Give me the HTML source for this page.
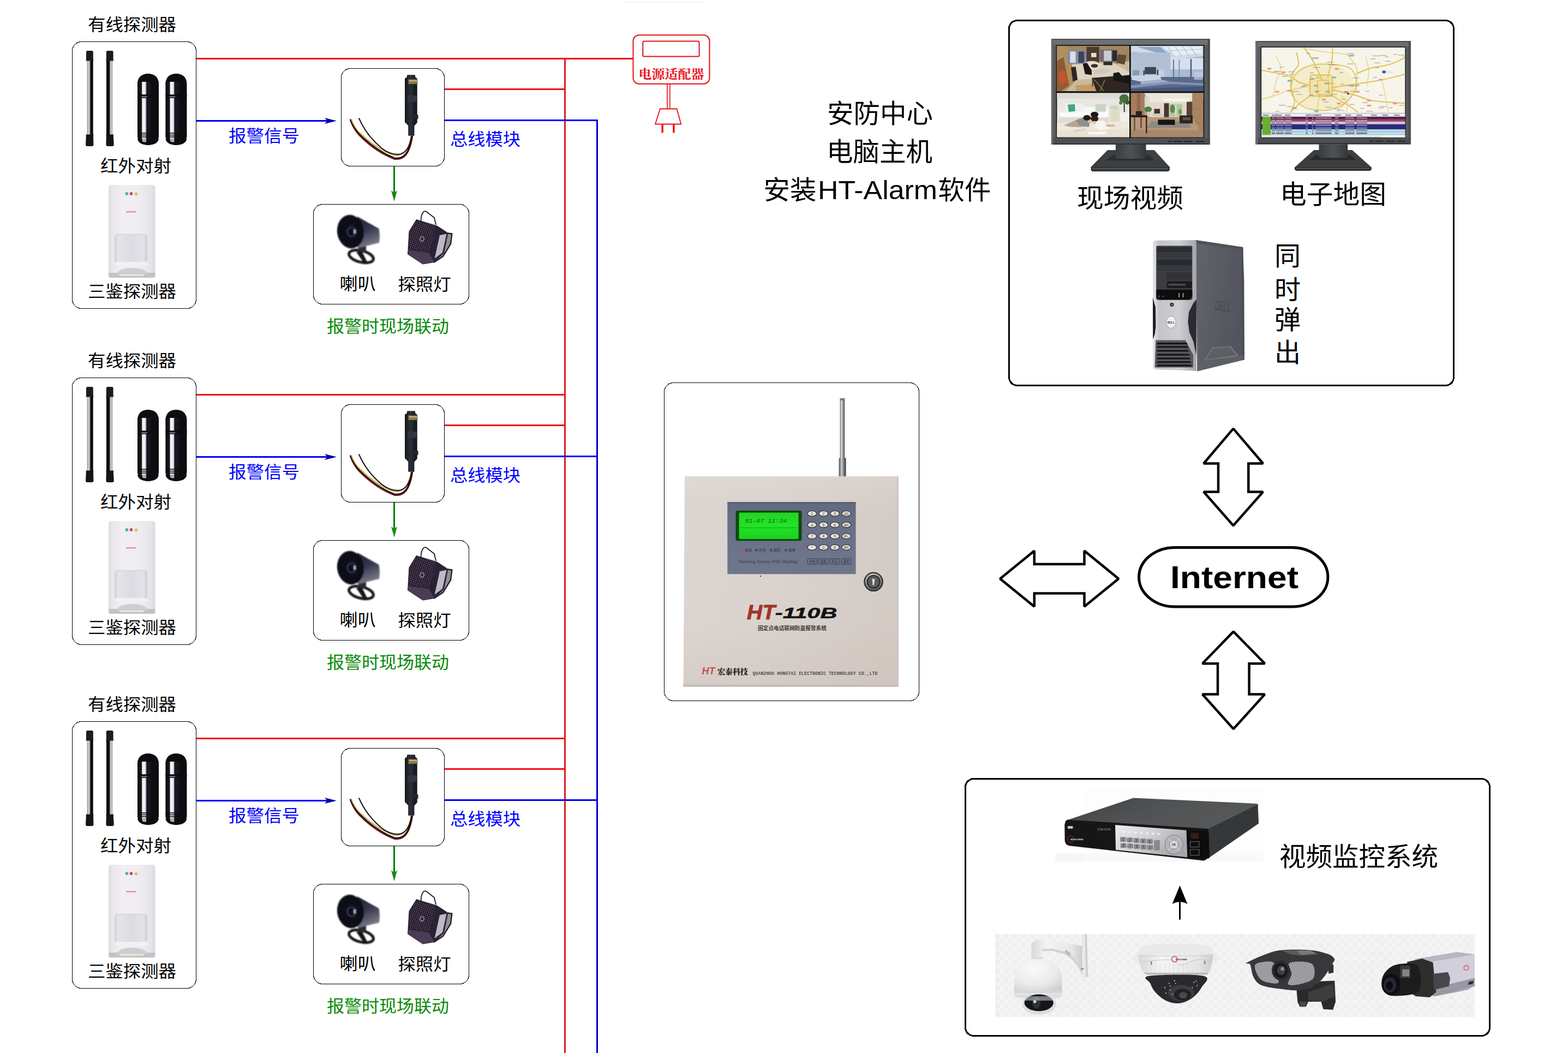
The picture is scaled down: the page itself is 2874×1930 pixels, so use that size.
<!DOCTYPE html>
<html lang="zh-CN">
<head>
<meta charset="utf-8">
<title>联网报警系统拓扑图</title>
<style>
html,body{margin:0;padding:0;background:#fff;}
body{width:2874px;height:1930px;overflow:hidden;}
svg{display:block;font-family:"Liberation Sans","Noto Sans CJK SC",sans-serif;}
</style>
</head>
<body>
<svg width="2874" height="1930" viewBox="0 0 2874 1930">
<defs>

<linearGradient id="gAnt" x1="0" x2="1" y1="0" y2="0"><stop offset="0" stop-color="#6c6c6c"/><stop offset="0.35" stop-color="#e4e4e4"/><stop offset="0.6" stop-color="#9a9a9a"/><stop offset="1" stop-color="#4a4a4a"/></linearGradient>
<linearGradient id="gAnt2" x1="0" x2="1" y1="0" y2="0"><stop offset="0" stop-color="#4c4c4c"/><stop offset="0.4" stop-color="#d0d0d0"/><stop offset="0.65" stop-color="#808080"/><stop offset="1" stop-color="#3a3a3a"/></linearGradient>
<linearGradient id="gBody" x1="0" x2="1" y1="0" y2="0.15"><stop offset="0" stop-color="#dcd6d2"/><stop offset="0.5" stop-color="#d9d2cd"/><stop offset="1" stop-color="#d4cbc5"/></linearGradient><linearGradient id="gBodyV" x1="0" x2="0" y1="0" y2="1"><stop offset="0" stop-color="#e6e0da" stop-opacity="0.35"/><stop offset="0.25" stop-color="#d4c8c0" stop-opacity="0"/><stop offset="0.7" stop-color="#c8b8ac" stop-opacity="0"/><stop offset="1" stop-color="#c8bab0" stop-opacity="0.3"/></linearGradient>
<linearGradient id="gPanel" x1="0" x2="0" y1="0" y2="1"><stop offset="0" stop-color="#626a80"/><stop offset="0.5" stop-color="#6a7289"/><stop offset="1" stop-color="#6e768c"/></linearGradient>
<linearGradient id="gLcd" x1="0" x2="0" y1="0" y2="1"><stop offset="0" stop-color="#22d424"/><stop offset="0.5" stop-color="#20e426"/><stop offset="1" stop-color="#1ed022"/></linearGradient>
<radialGradient id="gLock" cx="0.45" cy="0.35" r="0.65"><stop offset="0" stop-color="#e4e4e4"/><stop offset="0.55" stop-color="#9a9a9a"/><stop offset="1" stop-color="#4a4a4a"/></radialGradient>

<filter id="soft" x="-10%" y="-10%" width="120%" height="120%"><feGaussianBlur stdDeviation="0.7"/></filter>
<filter id="soft2" x="-10%" y="-10%" width="120%" height="120%"><feGaussianBlur stdDeviation="1.1"/></filter>
<linearGradient id="gRodA" x1="0" x2="1" y1="0" y2="0">
 <stop offset="0" stop-color="#8c8c8c"/><stop offset="0.25" stop-color="#d4d4d4"/><stop offset="0.5" stop-color="#9a9a9a"/><stop offset="0.56" stop-color="#0a0a0a"/><stop offset="1" stop-color="#050505"/>
</linearGradient>
<linearGradient id="gRodB" x1="0" x2="1" y1="0" y2="0">
 <stop offset="0" stop-color="#050505"/><stop offset="0.52" stop-color="#0a0a0a"/><stop offset="0.58" stop-color="#9a9a9a"/><stop offset="0.8" stop-color="#d4d4d4"/><stop offset="1" stop-color="#909090"/>
</linearGradient>
<linearGradient id="gCap" x1="0" x2="1" y1="0" y2="0">
 <stop offset="0" stop-color="#0c0c12"/><stop offset="0.17" stop-color="#1a1a22"/><stop offset="0.2" stop-color="#f4f4f8"/><stop offset="0.36" stop-color="#e8e8f0"/><stop offset="0.43" stop-color="#181820"/><stop offset="1" stop-color="#07070c"/>
</linearGradient>
<g id="capsule">
 <path d="M0 20 C0 6 8 0 19.5 0 C31 0 39 6 39 20 V112 C39 124 31 130.5 19.5 130.5 C8 130.5 0 124 0 112 Z" fill="#08080e"/>
 <rect x="1.5" y="14.5" width="36" height="108" fill="url(#gCap)"/>
 <path d="M0 20 C0 6 8 0 19.5 0 C31 0 39 6 39 20 L37.5 14.5 H1.5 Z" fill="#08080e"/>
 <rect x="0" y="38" width="39" height="3.6" fill="#0a0a10"/>
 <rect x="7" y="41.6" width="11" height="1.4" fill="#9a9aa4"/>
 <rect x="0" y="43" width="39" height="1.6" fill="#0a0a10"/>
 <rect x="0" y="108" width="39" height="1.6" fill="#0a0a10"/>
 <rect x="0" y="111.5" width="39" height="1.6" fill="#0a0a10"/>
 <rect x="0" y="115" width="39" height="1.6" fill="#0a0a10"/>
 <path d="M0 119 H39 C38 126 31 130.5 19.5 130.5 C8 130.5 1 126 0 119 Z" fill="#08080e"/>
 <path d="M8 119 h8 v6 q-4 1 -7 -1 z" fill="#d8d8e0" opacity="0.8"/>
</g>
<g id="irbars" filter="url(#soft)">
 <rect x="159.6" y="108" width="11" height="142" fill="url(#gRodA)"/>
 <path d="M158 95.5 q0 -2.4 2.4 -2.4 h8 q2.4 0 2.4 2.4 v13 l0.6 3 h-14 l0.6 -3 z" fill="#1c1c1c"/>
 <path d="M157.6 246.5 h14 l-0.6 3 l0.4 15.5 q0 3 -3 3 h-8.4 q-3 0 -3 -3 l0.8 -15.5 z" fill="#161616"/>
 <rect x="195" y="108" width="11.3" height="142" fill="url(#gRodB)"/>
 <path d="M194.8 95.5 q0 -2.4 2.4 -2.4 h8 q2.4 0 2.4 2.4 v13 l0.6 3 h-14 l0.6 -3 z" fill="#1c1c1c"/>
 <path d="M194.2 246.5 h14 l-0.4 3 l1 15.5 q0 3 -3 3 h-8.4 q-3 0 -3 -3 l0.4 -15.5 z" fill="#161616"/>
 <use href="#capsule" x="252" y="135.2"/>
 <use href="#capsule" x="303.4" y="135.2"/>
</g>
<linearGradient id="gPir" x1="0" x2="1" y1="0" y2="0">
 <stop offset="0" stop-color="#dddbe0"/><stop offset="0.08" stop-color="#e9e7ec"/><stop offset="0.3" stop-color="#f1eff4"/><stop offset="0.7" stop-color="#eeecf1"/><stop offset="0.92" stop-color="#e5e3e9"/><stop offset="1" stop-color="#d9d7dd"/>
</linearGradient>
<linearGradient id="gPirLens" x1="0" x2="1" y1="0" y2="0">
 <stop offset="0" stop-color="#d6d4da"/><stop offset="0.12" stop-color="#e6e4ea"/><stop offset="0.5" stop-color="#dddbe2"/><stop offset="0.88" stop-color="#e4e2e8"/><stop offset="1" stop-color="#d2d0d6"/>
</linearGradient>
<g id="pir" filter="url(#soft)">
 <rect x="199" y="339" width="85.5" height="170" rx="5" fill="url(#gPir)"/>
 <rect x="227" y="349" width="27" height="46" fill="#f0eef3"/>
 <path d="M199 500 h85.5 v5 q0 4 -4 4 h-77.5 q-4 0 -4 -4 z" fill="#c4c2c6"/>
 <path d="M214 503 q3 -12 28 -12 q25 0 29 12 z" fill="#cfcdd0"/>
 <rect x="219" y="503" width="44" height="2.5" fill="#eeecd8"/>
 <path d="M210.5 436 q0 -6.5 6 -6.5 h47 q6 0 6 6.5 v40 q0 4.5 -5 4.5 h-49 q-5 0 -5 -4.5 z" fill="url(#gPirLens)" stroke="#d0ced5" stroke-width="1.2"/>
 <path d="M212 480 h57 v8 h-57 z" fill="#f2f0f5"/>
 <circle cx="232.4" cy="355" r="2.9" fill="#5ab48c"/>
 <circle cx="240.5" cy="355" r="2.9" fill="#c8505e"/>
 <circle cx="249.5" cy="355.5" r="2.9" fill="#d2c46c"/>
 <rect x="231" y="387.3" width="18.5" height="2" fill="#e0808c"/>
</g>
<linearGradient id="gMod" x1="0" x2="1" y1="0" y2="0">
 <stop offset="0" stop-color="#16181e"/><stop offset="0.45" stop-color="#2c3038"/><stop offset="1" stop-color="#101216"/>
</linearGradient>
<g id="module" filter="url(#soft)">
 <path d="M641.6 218.9 C646 232 652 241 658 247.5 C678 268 700 283 723 291.6 C740 294 751 283 756.2 249" fill="none" stroke="#7a1418" stroke-width="2.2"/>
 <path d="M642.4 218.5 C647 231 653 240 659 246 C679 266 701 281 723 289.6 C739 292 750 282 755.2 249" fill="none" stroke="#101014" stroke-width="2.2"/>
 <path d="M643.6 218.2 C648 230 654 238.5 660.5 244.5 C680 263 700 277 721 284.5 C738 287 749 278 753.2 249" fill="none" stroke="#c9a43c" stroke-width="1.8"/>
 <path d="M657.8 216.3 C668 240 683 258 700 272 C712 281 722 283.5 730 283 C744 282 752 268 754.5 249" fill="none" stroke="#0c0c10" stroke-width="2"/>
 <path d="M746.5 137.3 h14 l1.2 5 l3 1.5 v81 l-5.3 6 v18 h-11.2 v-18.5 l-6.2 -6.5 v-80 l3.3 -2 z" fill="url(#gMod)"/>
 <rect x="748.5" y="145.4" width="17" height="8.6" fill="#8a7a4a"/>
 <rect x="750" y="147" width="14" height="2" fill="#c8b878"/>
 <rect x="747.5" y="175" width="17" height="12" fill="#30343c"/>
 <rect x="758" y="210" width="8.5" height="8" fill="#24262c"/>
</g>
<linearGradient id="gHorn" x1="0" x2="0.3" y1="0" y2="1">
 <stop offset="0" stop-color="#181c2e"/><stop offset="0.5" stop-color="#34384e"/><stop offset="1" stop-color="#7c7888"/>
</linearGradient>
<radialGradient id="gBell" cx="0.55" cy="0.5" r="0.6">
 <stop offset="0" stop-color="#1c2030"/><stop offset="0.5" stop-color="#0a0c16"/><stop offset="1" stop-color="#10121e"/>
</radialGradient>
<g id="horn" filter="url(#soft2)">
 <ellipse cx="662" cy="470" rx="23" ry="10.5" fill="none" stroke="#121216" stroke-width="5" transform="rotate(14 662 470)"/>
 <path d="M653 462 l14 20 l6 -2 l-10 -20 z" fill="#121216"/>
 <rect x="657" y="451" width="14" height="10" fill="#2a2c38"/>
 <path d="M655 397 L694.5 419 Q697 432 695 445 L655 455 Z" fill="url(#gHorn)"/>
 <ellipse cx="642.5" cy="424.5" rx="24.5" ry="30.8" fill="url(#gBell)" transform="rotate(-8 642.5 424.5)"/>
 <circle cx="644.5" cy="425" r="8" fill="#0c0e1a" stroke="#4a5068" stroke-width="1.2"/>
 <rect x="648.5" y="421" width="3" height="7" fill="#c8ccd8"/>
</g>
<pattern id="pDots" width="3.6" height="3.6" patternUnits="userSpaceOnUse" patternTransform="rotate(20)">
 <rect width="3.6" height="3.6" fill="#241a2a"/><circle cx="1.8" cy="1.8" r="0.9" fill="#7a6a86"/>
</pattern>
<g id="lamp" filter="url(#soft)">
 <path d="M770.5 420 L772 398 Q775 385 781 387.5 L796 399 L799 412" fill="none" stroke="#1c1820" stroke-width="1.8"/>
 <path d="M821 427.5 L828.3 428.5 L826 447 L812 470 L795 481" fill="none" stroke="#1c1820" stroke-width="2.4"/>
 <path d="M749.5 424 L763 402 L801 413.5 L821.5 427 L814 464 L796 481 L775 484.5 L747 466 Z" fill="#2a2030"/>
 <path d="M751 424 L763.5 403.5 L800 414.5 L786 462 L749 456 Z" fill="url(#pDots)"/>
 <path d="M748 458 L786 463 L796 480 L775 484 L747.5 466 Z" fill="#4a3c54"/>
 <path d="M806 431 L818.5 428.8 L811 463 L796.5 474 Z" fill="#bdb9c8"/><path d="M821 427.5 L828.3 428.5 L826 447 L812 470 L797 480 L811 463 Z" fill="#3a3040" opacity="0.55"/>
 <ellipse cx="773.5" cy="438" rx="3.6" ry="4.3" fill="none" stroke="#dcd8e4" stroke-width="1"/>
</g>

<linearGradient id="gNeck" x1="0" x2="1" y1="0" y2="0"><stop offset="0" stop-color="#3a3c3e"/><stop offset="0.5" stop-color="#505254"/><stop offset="1" stop-color="#343638"/></linearGradient>

<linearGradient id="gSide" x1="0" x2="1" y1="0" y2="0.3"><stop offset="0" stop-color="#62646b"/><stop offset="0.5" stop-color="#5a5c63"/><stop offset="1" stop-color="#53555c"/></linearGradient>
<linearGradient id="gSilver" x1="0" x2="1" y1="0" y2="0"><stop offset="0" stop-color="#e4e4e8"/><stop offset="0.15" stop-color="#c4c4c8"/><stop offset="0.6" stop-color="#cfcfd3"/><stop offset="1" stop-color="#a4a4aa"/></linearGradient>

<linearGradient id="gDvrTop" x1="0" x2="1" y1="0" y2="0.4"><stop offset="0" stop-color="#404244"/><stop offset="0.5" stop-color="#505254"/><stop offset="1" stop-color="#56585a"/></linearGradient>
<linearGradient id="gDvrPanel" x1="0" x2="1" y1="0" y2="0.5"><stop offset="0" stop-color="#ececee"/><stop offset="0.5" stop-color="#d2d2d6"/><stop offset="1" stop-color="#a8a8ac"/></linearGradient>
<pattern id="pWeave" width="16" height="16" patternUnits="userSpaceOnUse"><rect width="16" height="16" fill="#f4f4f4"/><rect x="0" y="0" width="8" height="8" fill="#eeeeee"/><rect x="8" y="8" width="8" height="8" fill="#f0f0f0"/></pattern>
<radialGradient id="gDome" cx="0.4" cy="0.3" r="0.8"><stop offset="0" stop-color="#fafafa"/><stop offset="0.6" stop-color="#ebebeb"/><stop offset="1" stop-color="#cfcfcf"/></radialGradient>
<linearGradient id="gWhiteCam" x1="0" x2="1" y1="0" y2="0"><stop offset="0" stop-color="#d8d8d8"/><stop offset="0.3" stop-color="#f4f4f4"/><stop offset="0.8" stop-color="#e6e6e6"/><stop offset="1" stop-color="#cccccc"/></linearGradient>
<pattern id="pLed" width="3" height="3" patternUnits="userSpaceOnUse" patternTransform="rotate(25)"><rect width="3" height="3" fill="#7e7e82"/><circle cx="1.5" cy="1.5" r="0.9" fill="#e4e4e8"/></pattern>
<linearGradient id="gBox" x1="0" x2="0" y1="0" y2="1"><stop offset="0" stop-color="#a8a4b0"/><stop offset="0.25" stop-color="#d8d4e0"/><stop offset="0.7" stop-color="#c4c0cc"/><stop offset="1" stop-color="#8c8894"/></linearGradient>

</defs>
<rect x="1034" y="106" width="3" height="1824" fill="#d81e28"/>
<rect x="1093" y="219" width="3" height="1711" fill="#0000d0"/>
<g transform="translate(0,0)">
<rect x="360" y="106" width="800" height="3" fill="#ed1019"/>
<rect x="814" y="162" width="222" height="3" fill="#ed1019"/>
<rect x="814" y="219" width="282" height="3" fill="#0000ff"/>
<rect x="360" y="220" width="240" height="3" fill="#0000ff"/>
<path d="M617 221.5 L595 216 L600 221.5 L595 227 Z" fill="#00009a"/>
<text x="161" y="56" font-size="31" fill="#000" textLength="162" lengthAdjust="spacingAndGlyphs">有线探测器</text>
<rect x="132.5" y="76.5" width="227.0" height="489.0" rx="17" ry="17" fill="none" stroke="#000" stroke-width="1" shape-rendering="crispEdges"/>
<use href="#irbars"/>
<text x="184" y="315.3" font-size="31" fill="#000" textLength="130" lengthAdjust="spacingAndGlyphs">红外对射</text>
<use href="#pir"/>
<text x="161" y="545.2" font-size="31" fill="#000" textLength="162" lengthAdjust="spacingAndGlyphs">三鉴探测器</text>
<text x="419" y="260.3" font-size="31" fill="#0000ff" textLength="130" lengthAdjust="spacingAndGlyphs">报警信号</text>
<text x="825" y="266.2" font-size="31" fill="#0000ff" textLength="129" lengthAdjust="spacingAndGlyphs">总线模块</text>
<rect x="625.5" y="125.5" width="189.0" height="179.0" rx="17" ry="17" fill="#fff" stroke="#000" stroke-width="1" shape-rendering="crispEdges"/>
<use href="#module"/>
<rect x="721" y="305" width="3" height="50" fill="#008000"/>
<path d="M722.5 369 L717 349 L722.5 353.5 L728 349 Z" fill="#128c12"/>
<rect x="574.5" y="374.5" width="285.0" height="183.0" rx="17" ry="17" fill="#fff" stroke="#000" stroke-width="1" shape-rendering="crispEdges"/>
<use href="#horn"/>
<use href="#lamp"/>
<text x="622.5" y="531.3" font-size="31" fill="#000" textLength="66.5" lengthAdjust="spacingAndGlyphs">喇叭</text>
<text x="729.5" y="532.3" font-size="31" fill="#000" textLength="97" lengthAdjust="spacingAndGlyphs">探照灯</text>
<text x="599" y="608.6" font-size="31" fill="#0a8a0a" textLength="224" lengthAdjust="spacingAndGlyphs">报警时现场联动</text>
</g>
<g transform="translate(0,616)">
<rect x="360" y="106" width="676" height="3" fill="#ed1019"/>
<rect x="814" y="162" width="222" height="3" fill="#ed1019"/>
<rect x="814" y="219" width="282" height="3" fill="#0000ff"/>
<rect x="360" y="220" width="240" height="3" fill="#0000ff"/>
<path d="M617 221.5 L595 216 L600 221.5 L595 227 Z" fill="#00009a"/>
<text x="161" y="56" font-size="31" fill="#000" textLength="162" lengthAdjust="spacingAndGlyphs">有线探测器</text>
<rect x="132.5" y="76.5" width="227.0" height="489.0" rx="17" ry="17" fill="none" stroke="#000" stroke-width="1" shape-rendering="crispEdges"/>
<use href="#irbars"/>
<text x="184" y="315.3" font-size="31" fill="#000" textLength="130" lengthAdjust="spacingAndGlyphs">红外对射</text>
<use href="#pir"/>
<text x="161" y="545.2" font-size="31" fill="#000" textLength="162" lengthAdjust="spacingAndGlyphs">三鉴探测器</text>
<text x="419" y="260.3" font-size="31" fill="#0000ff" textLength="130" lengthAdjust="spacingAndGlyphs">报警信号</text>
<text x="825" y="266.2" font-size="31" fill="#0000ff" textLength="129" lengthAdjust="spacingAndGlyphs">总线模块</text>
<rect x="625.5" y="125.5" width="189.0" height="179.0" rx="17" ry="17" fill="#fff" stroke="#000" stroke-width="1" shape-rendering="crispEdges"/>
<use href="#module"/>
<rect x="721" y="305" width="3" height="50" fill="#008000"/>
<path d="M722.5 369 L717 349 L722.5 353.5 L728 349 Z" fill="#128c12"/>
<rect x="574.5" y="374.5" width="285.0" height="183.0" rx="17" ry="17" fill="#fff" stroke="#000" stroke-width="1" shape-rendering="crispEdges"/>
<use href="#horn"/>
<use href="#lamp"/>
<text x="622.5" y="531.3" font-size="31" fill="#000" textLength="66.5" lengthAdjust="spacingAndGlyphs">喇叭</text>
<text x="729.5" y="532.3" font-size="31" fill="#000" textLength="97" lengthAdjust="spacingAndGlyphs">探照灯</text>
<text x="599" y="608.6" font-size="31" fill="#0a8a0a" textLength="224" lengthAdjust="spacingAndGlyphs">报警时现场联动</text>
</g>
<g transform="translate(0,1246)">
<rect x="360" y="106" width="676" height="3" fill="#ed1019"/>
<rect x="814" y="162" width="222" height="3" fill="#ed1019"/>
<rect x="814" y="219" width="282" height="3" fill="#0000ff"/>
<rect x="360" y="220" width="240" height="3" fill="#0000ff"/>
<path d="M617 221.5 L595 216 L600 221.5 L595 227 Z" fill="#00009a"/>
<text x="161" y="56" font-size="31" fill="#000" textLength="162" lengthAdjust="spacingAndGlyphs">有线探测器</text>
<rect x="132.5" y="76.5" width="227.0" height="489.0" rx="17" ry="17" fill="none" stroke="#000" stroke-width="1" shape-rendering="crispEdges"/>
<use href="#irbars"/>
<text x="184" y="315.3" font-size="31" fill="#000" textLength="130" lengthAdjust="spacingAndGlyphs">红外对射</text>
<use href="#pir"/>
<text x="161" y="545.2" font-size="31" fill="#000" textLength="162" lengthAdjust="spacingAndGlyphs">三鉴探测器</text>
<text x="419" y="260.3" font-size="31" fill="#0000ff" textLength="130" lengthAdjust="spacingAndGlyphs">报警信号</text>
<text x="825" y="266.2" font-size="31" fill="#0000ff" textLength="129" lengthAdjust="spacingAndGlyphs">总线模块</text>
<rect x="625.5" y="125.5" width="189.0" height="179.0" rx="17" ry="17" fill="#fff" stroke="#000" stroke-width="1" shape-rendering="crispEdges"/>
<use href="#module"/>
<rect x="721" y="305" width="3" height="50" fill="#008000"/>
<path d="M722.5 369 L717 349 L722.5 353.5 L728 349 Z" fill="#128c12"/>
<rect x="574.5" y="374.5" width="285.0" height="183.0" rx="17" ry="17" fill="#fff" stroke="#000" stroke-width="1" shape-rendering="crispEdges"/>
<use href="#horn"/>
<use href="#lamp"/>
<text x="622.5" y="531.3" font-size="31" fill="#000" textLength="66.5" lengthAdjust="spacingAndGlyphs">喇叭</text>
<text x="729.5" y="532.3" font-size="31" fill="#000" textLength="97" lengthAdjust="spacingAndGlyphs">探照灯</text>
<text x="599" y="608.6" font-size="31" fill="#0a8a0a" textLength="224" lengthAdjust="spacingAndGlyphs">报警时现场联动</text>
</g>
<rect x="1147" y="4" width="146" height="1" fill="#ebebeb"/>
<rect x="1160.5" y="64.2" width="140.0" height="89.6" rx="11" ry="11" fill="#fff" stroke="#e60f14" stroke-width="2" />
<rect x="1178.3" y="75.6" width="103.3" height="28.0" rx="2.5" ry="2.5" fill="none" stroke="#e60f14" stroke-width="2" />
<text x="1170.5" y="143.6" font-size="23" fill="#e8101a" textLength="120" lengthAdjust="spacingAndGlyphs" font-weight="700" font-family='"Liberation Serif","Noto Serif CJK SC",serif'>电源适配器</text>
<path d="M1223 154 V199 M1227.8 154 V199" stroke="#e60f14" stroke-width="1.6" fill="none"/>
<path d="M1210 199.5 H1240.5 L1248.3 227.5 H1201 Z" stroke="#e60f14" stroke-width="1.8" fill="#fff" stroke-linejoin="round"/>
<rect x="1212.5" y="228" width="3.4" height="15.5" fill="#ee1111"/><rect x="1233.2" y="228" width="3.4" height="15.5" fill="#ee1111"/>
<text x="1516" y="225" font-size="48" fill="#000" textLength="194" lengthAdjust="spacingAndGlyphs">安防中心</text>
<text x="1515" y="295" font-size="48" fill="#000" textLength="194" lengthAdjust="spacingAndGlyphs">电脑主机</text>
<text y="365" font-size="48" fill="#000"><tspan x="1399.5" textLength="97" lengthAdjust="spacingAndGlyphs">安装</tspan><tspan x="1499" textLength="219" lengthAdjust="spacingAndGlyphs">HT-Alarm</tspan><tspan x="1719.5" textLength="97" lengthAdjust="spacingAndGlyphs">软件</tspan></text>
<rect x="1217.5" y="701.5" width="467.0" height="583.0" rx="17" ry="17" fill="#fff" stroke="#000" stroke-width="1" shape-rendering="crispEdges"/>
<g id="host">
<g filter="url(#soft)">
<rect x="1539.6" y="732" width="8.6" height="110" fill="url(#gAnt)"/>
<rect x="1537.6" y="839" width="13" height="35" rx="2" fill="url(#gAnt2)"/>
<path d="M1538.5 730 h11 l-3.5 4 h-4 z" fill="#7a7a7a"/>
<path d="M1255 873 H1646.8 V1258.6 H1252.6 Z" fill="url(#gBody)"/>
<path d="M1255 873 H1646.8 V1258.6 H1252.6 Z" fill="url(#gBodyV)"/>
<rect x="1252.6" y="1254.5" width="394.2" height="4.5" fill="#c5bdb8"/>
<rect x="1644" y="873" width="3" height="386" fill="#cfc6c0"/>
<rect x="1333.3" y="920.2" width="235.3" height="132" fill="url(#gPanel)"/>
<rect x="1333.3" y="920.2" width="235.3" height="3" fill="#5a6176"/>
<rect x="1348.5" y="935.8" width="121" height="55.4" rx="3.5" fill="#0b4a10"/>
<rect x="1354.6" y="939.4" width="109" height="48.6" rx="1.5" fill="url(#gLcd)"/>
</g>
<text x='1366' y='958' font-size='11.5' font-family='"Liberation Mono",monospace' font-style='italic' fill='#0c6a12' textLength='76' lengthAdjust='spacingAndGlyphs'>01-07 11:34</text>
<g filter="url(#soft)">
<rect x="1356" y="966.5" width="106" height="1.6" fill="#14b41c" opacity="0.8"/>
<ellipse cx="1488.4" cy="941.3" rx="8.3" ry="5" fill="#e5e4d8" stroke="#2e3038" stroke-width="1.2"/>
<ellipse cx="1509.4" cy="941.3" rx="8.3" ry="5" fill="#e5e4d8" stroke="#2e3038" stroke-width="1.2"/>
<ellipse cx="1530.2" cy="941.3" rx="8.3" ry="5" fill="#e5e4d8" stroke="#2e3038" stroke-width="1.2"/>
<ellipse cx="1551.3" cy="941.3" rx="8.3" ry="5" fill="#e5e4d8" stroke="#2e3038" stroke-width="1.2"/>
<ellipse cx="1488.4" cy="961.9" rx="8.3" ry="5" fill="#e5e4d8" stroke="#2e3038" stroke-width="1.2"/>
<ellipse cx="1509.4" cy="961.9" rx="8.3" ry="5" fill="#e5e4d8" stroke="#2e3038" stroke-width="1.2"/>
<ellipse cx="1530.2" cy="961.9" rx="8.3" ry="5" fill="#e5e4d8" stroke="#2e3038" stroke-width="1.2"/>
<ellipse cx="1551.3" cy="961.9" rx="8.3" ry="5" fill="#e5e4d8" stroke="#2e3038" stroke-width="1.2"/>
<ellipse cx="1488.4" cy="982.7" rx="8.3" ry="5" fill="#e5e4d8" stroke="#2e3038" stroke-width="1.2"/>
<ellipse cx="1509.4" cy="982.7" rx="8.3" ry="5" fill="#e5e4d8" stroke="#2e3038" stroke-width="1.2"/>
<ellipse cx="1530.2" cy="982.7" rx="8.3" ry="5" fill="#e5e4d8" stroke="#2e3038" stroke-width="1.2"/>
<ellipse cx="1551.3" cy="982.7" rx="8.3" ry="5" fill="#e5e4d8" stroke="#2e3038" stroke-width="1.2"/>
<ellipse cx="1488.4" cy="1003.3" rx="8.3" ry="5" fill="#e5e4d8" stroke="#2e3038" stroke-width="1.2"/>
<ellipse cx="1509.4" cy="1003.3" rx="8.3" ry="5" fill="#e5e4d8" stroke="#2e3038" stroke-width="1.2"/>
<ellipse cx="1530.2" cy="1003.3" rx="8.3" ry="5" fill="#e5e4d8" stroke="#2e3038" stroke-width="1.2"/>
<ellipse cx="1551.3" cy="1003.3" rx="8.3" ry="5" fill="#e5e4d8" stroke="#2e3038" stroke-width="1.2"/>
</g>
<text x="1488.4" y="944.0" font-size="7.5" text-anchor="middle" fill="#45443a">1</text>
<text x="1509.4" y="944.0" font-size="7.5" text-anchor="middle" fill="#45443a">2</text>
<text x="1530.2" y="944.0" font-size="7.5" text-anchor="middle" fill="#45443a">3</text>
<text x="1551.3" y="943.0" font-size="4.6" text-anchor="middle" fill="#45443a">设防</text>
<text x="1488.4" y="964.6" font-size="7.5" text-anchor="middle" fill="#45443a">4</text>
<text x="1509.4" y="964.6" font-size="7.5" text-anchor="middle" fill="#45443a">5</text>
<text x="1530.2" y="964.6" font-size="7.5" text-anchor="middle" fill="#45443a">6</text>
<text x="1551.3" y="963.6" font-size="4.6" text-anchor="middle" fill="#45443a">撤防</text>
<text x="1488.4" y="985.4000000000001" font-size="7.5" text-anchor="middle" fill="#45443a">7</text>
<text x="1509.4" y="985.4000000000001" font-size="7.5" text-anchor="middle" fill="#45443a">8</text>
<text x="1530.2" y="985.4000000000001" font-size="7.5" text-anchor="middle" fill="#45443a">9</text>
<text x="1551.3" y="984.4000000000001" font-size="4.6" text-anchor="middle" fill="#45443a">确认</text>
<text x="1488.4" y="1006.0" font-size="7.5" text-anchor="middle" fill="#45443a">*</text>
<text x="1509.4" y="1006.0" font-size="7.5" text-anchor="middle" fill="#45443a">0</text>
<text x="1530.2" y="1006.0" font-size="7.5" text-anchor="middle" fill="#45443a">#</text>
<text x="1551.3" y="1005.0" font-size="4.6" text-anchor="middle" fill="#45443a">删除</text>
<circle cx="1360.5" cy="1008.4" r="2.4" fill="#d8405a"/>
<text x="1365.0" y="1011" font-size="6.4" fill="#343a50">电源</text>
<circle cx="1386.5" cy="1008.4" r="2.4" fill="#3c4a66"/>
<text x="1391.0" y="1011" font-size="6.4" fill="#343a50">布防</text>
<circle cx="1413.6" cy="1008.4" r="2.4" fill="#3c4a66"/>
<text x="1418.1" y="1011" font-size="6.4" fill="#343a50">撤防</text>
<circle cx="1440.7" cy="1008.4" r="2.4" fill="#3c4a66"/>
<text x="1445.2" y="1011" font-size="6.4" fill="#343a50">报警</text>
<text x='1354' y='1031.5' font-size='8.2' font-style='italic' font-weight='700' fill='#454c60' font-family='"Liberation Serif",serif' textLength='108' lengthAdjust='spacingAndGlyphs'>Warning System With Dialling</text>
<rect x="1480.1" y="1024" width="17.4" height="10.2" rx="1.2" fill="#6a738a" stroke="#363c50" stroke-width="1"/>
<text x="1488.8" y="1031.3" font-size="5.4" text-anchor="middle" fill="#262c3e">查询</text>
<rect x="1500.3" y="1024" width="17.4" height="10.2" rx="1.2" fill="#6a738a" stroke="#363c50" stroke-width="1"/>
<text x="1509.0" y="1031.3" font-size="5.4" text-anchor="middle" fill="#262c3e">设置</text>
<rect x="1521.3" y="1024" width="17.4" height="10.2" rx="1.2" fill="#6a738a" stroke="#363c50" stroke-width="1"/>
<text x="1530.0" y="1031.3" font-size="5.4" text-anchor="middle" fill="#262c3e">停止</text>
<rect x="1542.2" y="1024" width="17.4" height="10.2" rx="1.2" fill="#6a738a" stroke="#363c50" stroke-width="1"/>
<text x="1550.9" y="1031.3" font-size="5.4" text-anchor="middle" fill="#262c3e">退出</text>
<circle cx="1394" cy="1056" r="1" fill="#111"/>
<g filter="url(#soft)">
<circle cx="1601.1" cy="1066.3" r="16.8" fill="url(#gLock)" stroke="#2c2c2c" stroke-width="2"/>
<circle cx="1601.1" cy="1066.3" r="11.5" fill="#5c5c5c" stroke="#222" stroke-width="1.8"/>
<path d="M1598.5 1061 q3.5 -1.5 5 1.5 l-1.5 10 h-2.5 z" fill="#d8d8d8"/>
</g>
<text x='1369' y='1134.6' font-size='37.5' font-weight='700' font-style='italic' fill='#a2332a' stroke='#a2332a' stroke-width='0.8' textLength='52' lengthAdjust='spacingAndGlyphs'>HT</text>
<text x='1420.5' y='1133.4' font-size='27' font-weight='700' font-style='italic' fill='#141212' stroke='#141212' stroke-width='0.5' textLength='114' lengthAdjust='spacingAndGlyphs'>-110B</text>
<text x='1389' y='1155.2' font-size='9.7' font-weight='700' fill='#3c3836' textLength='126' lengthAdjust='spacingAndGlyphs'>固定点电话联网防盗报警系统</text>
<text x='1286.5' y='1236.3' font-size='19' font-weight='700' font-style='italic' fill='#c0504a' textLength='24' lengthAdjust='spacingAndGlyphs'>HT</text>
<text x='1315' y='1235.6' font-size='14' font-weight='900' fill='#1c1a1a' font-family='"Liberation Serif","Noto Serif CJK SC",serif' textLength='56' lengthAdjust='spacingAndGlyphs'>宏泰科技</text>
<text x='1379.5' y='1237.2' font-size='9.4' fill='#55504e' font-family='"Liberation Mono",monospace' font-weight='700' textLength='229' lengthAdjust='spacingAndGlyphs'>QUANZHOU HONGTAI ELECTRONIC TECHNOLOGY CO.,LTD</text>
</g>
<rect x="1849.5" y="37.5" width="815.0" height="669.0" rx="15" ry="15" fill="#fff" stroke="#000" stroke-width="3" shape-rendering="crispEdges"/>
<g id="mon1" filter="url(#soft)">
<polygon points="2030.2,275.3 2115.5,275.3 2143.9,306.3 2143.9,311.8 2141.3,314.2 2002.3,314.2 1999.6,311.8 1999.6,306.3" fill="#303234" />
<polygon points="2030.2,275.3 2115.5,275.3 2143.9,306.3 1999.6,306.3" fill="#3e4042" />
<polygon points="2040.6,283.9 2105.2,283.9 2117.2,294.2 2026.8,294.2" fill="#2c2e30" />
<rect x="2002.3" y="308.0" width="138.99" height="2.07" fill="#55585a" />
<rect x="2044.9" y="265.0" width="55.63" height="25.84" fill="url(#gNeck)" />
<rect x="1926.9" y="71.4" width="290.73" height="193.59" fill="#585b5e" />
<rect x="1926.9" y="71.4" width="290.73" height="10.68" fill="#6c7072" />
<rect x="1926.9" y="71.4" width="290.73" height="1.38" fill="#3c3e40" />
<rect x="1926.9" y="252.9" width="290.73" height="12.06" fill="#4c4f52" />
<rect x="1926.9" y="262.9" width="290.73" height="2.07" fill="#2e3032" />
<rect x="1926.9" y="71.4" width="3.79" height="193.59" fill="#666a6d" />
<rect x="2213.8" y="71.4" width="3.79" height="193.59" fill="#484b4e" />
<rect x="1935.8" y="82.4" width="271.44" height="170.17" fill="#0c0c0c" />
<rect x="2139.6" y="258.1" width="8.61" height="2.07" rx="0.86" fill="#26282a" />
<rect x="2150.8" y="258.1" width="16.36" height="2.07" rx="0.86" fill="#26282a" />
<rect x="2169.7" y="258.1" width="16.36" height="2.07" rx="0.86" fill="#26282a" />
<rect x="2191.3" y="258.1" width="16.36" height="2.07" rx="0.86" fill="#26282a" />
<clipPath id="cTL"><rect x="1937.2" y="84.1" width="133" height="83.5"/></clipPath><g clip-path="url(#cTL)">
<rect x="1937.2" y="84.1" width="132.97" height="83.53" fill="#c9b99d" />
<polygon points="1937.2,84.1 2070.2,84.1 2070.2,111.7 2047.5,116.8 2016.5,111.7 1964.8,116.8 1954.4,94.4 1937.2,99.6" fill="#a08660" />
<polygon points="1937.2,84.1 1956.2,84.1 1973.4,146.1 1952.7,167.6 1937.2,167.6" fill="#b08e5c" />
<polygon points="1937.2,111.7 1949.3,104.8 1959.6,156.5 1944.1,167.6 1937.2,167.6" fill="#8c5c38" />
<polygon points="1938.9,132.3 1951.0,128.9 1956.2,149.6 1942.4,156.5" fill="#c4552c" />
<rect x="1957.0" y="92.7" width="35.31" height="24.11" fill="#7f8aa6" />
<rect x="1961.3" y="94.4" width="10.33" height="20.67" fill="#d9dde8" />
<rect x="1976.8" y="94.4" width="10.33" height="20.67" fill="#3c4258" />
<rect x="1991.5" y="85.8" width="23.25" height="29.28" fill="#4d3a2e" />
<rect x="2000.1" y="97.0" width="9.47" height="7.75" fill="#e4e0d8" />
<rect x="2016.5" y="91.0" width="31.0" height="22.39" fill="#6d6a72" />
<rect x="2023.3" y="92.7" width="13.78" height="18.95" fill="#c9ccd6" />
<rect x="2038.8" y="92.7" width="8.61" height="18.95" fill="#2a2c34" />
<polygon points="2049.2,99.6 2064.7,101.3 2061.2,118.6 2046.6,115.1" fill="#5b4a30" />
<polygon points="1964.8,118.6 2040.6,115.1 2070.2,132.3 2070.2,141.0 2006.1,144.4 1973.4,146.1" fill="#ddd3c2" />
<ellipse cx="2001.0" cy="119.4" rx="15.5" ry="7.75" fill="#e6dfd0" />
<ellipse cx="2006.1" cy="120.6" rx="6.54" ry="3.44" fill="#3a302a" />
<polygon points="1984.6,116.8 1992.3,115.1 2001.0,128.9 2001.0,137.5 1988.9,135.8" fill="#1d1916" />
<rect x="2022.5" y="113.4" width="16.36" height="6.03" fill="#2e2a28" />
<polygon points="2002.7,128.9 2023.3,125.4 2038.8,128.9 2023.3,135.8 2004.4,135.8" fill="#cfc8ba" />
<polygon points="1963.1,123.7 1971.7,122.0 1975.1,146.1 1966.5,149.6" fill="#2c2620" />
<polygon points="1971.7,156.5 2044.0,151.3 2047.5,167.6 1971.7,167.6" fill="#c59a69" />
<polygon points="2001.0,142.7 2070.2,137.5 2070.2,167.6 2009.6,167.6" fill="#2f2620" />
<polygon points="2040.6,134.1 2050.9,132.3 2057.8,141.0 2070.2,137.5 2070.2,153.0 2040.6,147.8" fill="#191513" />
<polyline points="2006.1,146.1 2023.3,166.8" fill="none" stroke="#8a6a4c" stroke-width="1.72" />
<polyline points="2025.1,146.1 2016.5,166.8" fill="none" stroke="#8a6a4c" stroke-width="1.72" />
<polyline points="2002.7,144.4 2002.7,158.2" fill="none" stroke="#5a4636" stroke-width="2.41" />
</g>
<clipPath id="cTR"><rect x="2072.4" y="84.1" width="133.2" height="83.5"/></clipPath><g clip-path="url(#cTR)">
<rect x="2072.4" y="84.1" width="133.14" height="83.53" fill="#a9b6cb" />
<polygon points="2072.4,84.1 2205.6,84.1 2205.6,103.1 2145.6,109.1 2080.2,94.4 2072.4,96.2" fill="#cfdbea" />
<polygon points="2083.6,85.8 2126.7,85.8 2143.9,101.3 2112.9,94.4" fill="#8ea6c4" />
<polygon points="2131.8,85.8 2202.5,85.8 2202.5,97.0 2150.8,102.2" fill="#e6eef6" />
<polyline points="2140.5,85.8 2152.5,103.1" fill="none" stroke="#b6c2d2" stroke-width="1.21" />
<polyline points="2154.2,85.8 2166.3,103.1" fill="none" stroke="#b6c2d2" stroke-width="1.21" />
<polyline points="2168.0,85.8 2180.1,103.1" fill="none" stroke="#b6c2d2" stroke-width="1.21" />
<polyline points="2181.8,85.8 2193.9,103.1" fill="none" stroke="#b6c2d2" stroke-width="1.21" />
<polyline points="2135.3,93.6 2205.6,90.1" fill="none" stroke="#b6c2d2" stroke-width="1.03" />
<rect x="2072.4" y="96.2" width="73.2" height="44.78" fill="#b3c0d4" />
<rect x="2145.6" y="106.5" width="59.94" height="37.89" fill="#d5e0ee" />
<rect x="2145.6" y="127.2" width="59.94" height="13.78" fill="#a9bad2" />
<rect x="2149.9" y="109.1" width="2.24" height="31.86" fill="#6a7c98" />
<rect x="2160.3" y="109.1" width="2.24" height="31.86" fill="#8a9cb6" />
<rect x="2181.8" y="108.2" width="2.41" height="39.61" fill="#4a5a78" />
<rect x="2098.3" y="122.9" width="20.67" height="12.92" fill="#3b4556" />
<rect x="2095.7" y="128.9" width="2.07" height="12.06" fill="#2c3444" />
<rect x="2120.7" y="128.0" width="2.07" height="10.33" fill="#2c3444" />
<rect x="2075.9" y="128.9" width="12.06" height="10.33" fill="#8a98b0" />
<rect x="2125.0" y="128.0" width="8.61" height="16.36" fill="#c6d2e2" />
<polygon points="2072.4,141.0 2205.6,141.0 2205.6,167.6 2072.4,167.6" fill="#5a6b8c" />
<polygon points="2074.2,138.4 2126.7,137.5 2128.4,146.1 2090.5,149.6 2074.2,146.1" fill="#c8d4e4" />
<polygon points="2090.5,149.6 2128.4,146.1 2143.9,149.6 2092.2,156.5" fill="#9fb0ca" />
<polygon points="2072.4,156.5 2143.9,149.6 2205.6,153.0 2205.6,156.5 2143.9,153.9 2072.4,161.6" fill="#8394b4" />
<polygon points="2072.4,163.3 2205.6,158.2 2205.6,167.6 2072.4,167.6" fill="#46567a" />
<rect x="2188.7" y="132.3" width="15.5" height="13.78" fill="#c3cfe0" opacity="0.7"/>
</g>
<clipPath id="cBL"><rect x="1937.2" y="170.2" width="133" height="81.3"/></clipPath><g clip-path="url(#cBL)">
<rect x="1937.2" y="170.2" width="132.97" height="81.3" fill="#e7e6e1" />
<rect x="1937.2" y="170.2" width="132.97" height="10.33" fill="#dcdbd6" />
<polygon points="1937.2,225.3 2070.2,221.9 2070.2,251.5 1937.2,251.5" fill="#eee8dd" />
<polygon points="1937.2,239.1 2070.2,235.7 2070.2,251.5 1937.2,251.5" fill="#e9e1d3" />
<rect x="1938.9" y="196.1" width="93.01" height="27.56" rx="3.44" fill="#f5f5f3" />
<rect x="1938.9" y="196.1" width="15.5" height="27.56" rx="2.58" fill="#ecebe8" />
<rect x="1942.4" y="206.4" width="87.84" height="6.89" fill="#fbfbfa" />
<rect x="1940.7" y="215.0" width="91.28" height="9.47" fill="#dddcd6" />
<rect x="1952.7" y="189.2" width="32.72" height="17.22" rx="1.72" fill="#f0f0ee" />
<polygon points="1957.0,191.8 1969.9,190.9 1970.8,203.8 1958.8,205.0" fill="#3fa486" />
<rect x="2007.8" y="190.9" width="18.95" height="13.78" fill="#c9d4c4" />
<rect x="2035.4" y="197.8" width="16.36" height="24.97" fill="#e2dac8" />
<ellipse cx="2043.1" cy="196.9" rx="8.61" ry="3.79" fill="#cfd6bf" />
<rect x="2053.5" y="205.5" width="15.5" height="17.22" fill="#f1efea" />
<polyline points="2060.4,180.6 2060.9,205.5" fill="none" stroke="#3a3a28" stroke-width="2.07" />
<ellipse cx="2060.4" cy="180.6" rx="8.61" ry="7.75" fill="#47703c" />
<ellipse cx="2066.4" cy="187.5" rx="4.31" ry="4.31" fill="#3a6232" />
<ellipse cx="2054.3" cy="188.3" rx="3.1" ry="3.44" fill="#55804a" />
<polygon points="1950.1,229.7 1971.7,220.2 1987.2,221.0 1997.5,232.2 1976.8,233.1 1959.6,232.2" fill="#b5a58f" />
<polygon points="1971.7,220.2 1985.4,215.0 1997.5,225.3 1995.8,232.2 1978.6,230.5" fill="#8f8f92" />
<polygon points="2007.8,221.9 2023.3,221.0 2033.7,235.7 2016.5,239.1 2006.1,234.0" fill="#f7f5f1" />
<polygon points="2026.8,227.9 2043.1,228.8 2043.1,231.9 2028.5,232.2" fill="#d5b294" />
<ellipse cx="1992.3" cy="215.9" rx="6.89" ry="5.17" fill="#241d1a" />
<ellipse cx="2006.1" cy="209.8" rx="7.23" ry="5.17" fill="#1f1917" />
<ellipse cx="2006.1" cy="217.6" rx="7.23" ry="5.51" fill="#2a211d" />
<ellipse cx="1998.4" cy="222.8" rx="3.79" ry="3.1" fill="#e2bfa2" />
<ellipse cx="2006.1" cy="224.5" rx="3.44" ry="2.76" fill="#e6c6aa" />
<polygon points="1966.5,239.1 1988.9,234.8 1990.6,239.1 1968.2,242.6" fill="#d9d4cb" />
<polygon points="1994.1,242.6 2026.8,240.8 2027.6,246.0 1995.8,246.4" fill="#f8f6f2" />
</g>
<clipPath id="cBR"><rect x="2072.4" y="170.2" width="133.2" height="81.3"/></clipPath><g clip-path="url(#cBR)">
<rect x="2072.4" y="170.2" width="133.14" height="81.3" fill="#b89a7c" />
<polygon points="2072.4,170.2 2205.6,170.2 2205.6,180.6 2174.9,188.3 2107.7,188.3 2097.4,170.2" fill="#ece5da" />
<polygon points="2131.8,180.6 2183.5,180.6 2174.9,185.7 2133.6,185.7" fill="#f7f3ea" />
<rect x="2106.9" y="187.5" width="69.76" height="27.56" fill="#e3d9cb" />
<polygon points="2072.4,170.2 2097.4,170.2 2097.4,215.0 2072.4,211.6" fill="#a67d5b" />
<rect x="2083.6" y="172.0" width="6.89" height="39.61" fill="#8f6b4e" />
<rect x="2098.3" y="177.1" width="8.61" height="20.67" fill="#d9dccf" />
<polygon points="2185.2,170.2 2205.6,170.2 2205.6,251.5 2188.7,232.2 2185.2,215.0" fill="#a98464" />
<polyline points="2186.1,197.8 2205.6,201.2" fill="none" stroke="#8e6d52" stroke-width="0.86" />
<polyline points="2187.0,220.2 2205.6,230.5" fill="none" stroke="#8e6d52" stroke-width="0.86" />
<rect x="2174.9" y="186.6" width="10.33" height="30.14" fill="#5a4038" />
<rect x="2133.6" y="189.2" width="8.96" height="26.7" fill="#4a3532" />
<rect x="2143.9" y="190.9" width="23.25" height="22.39" fill="#b3c79a" />
<rect x="2154.2" y="190.9" width="2.07" height="22.39" fill="#dfe3d6" />
<ellipse cx="2149.1" cy="199.5" rx="4.31" ry="7.75" fill="#5c8a4c" />
<ellipse cx="2162.9" cy="204.7" rx="3.1" ry="5.17" fill="#6f9a5e" />
<rect x="2115.5" y="199.5" width="10.68" height="8.61" fill="#3b3532" />
<rect x="2112.0" y="209.0" width="19.81" height="3.44" fill="#cfc4b4" />
<ellipse cx="2104.3" cy="200.4" rx="6.89" ry="5.17" fill="#4f7b44" />
<rect x="2102.6" y="204.7" width="3.44" height="8.61" fill="#d9d4c8" />
<rect x="2081.9" y="203.8" width="11.2" height="7.75" fill="#2c2420" />
<polygon points="2072.4,215.0 2185.2,214.2 2205.6,251.5 2072.4,251.5" fill="#b7977a" />
<polygon points="2072.4,237.4 2205.6,239.1 2205.6,251.5 2072.4,251.5" fill="#a9876a" />
<polygon points="2109.5,222.8 2178.4,221.9 2183.5,234.0 2102.6,234.8" fill="#8e8983" />
<rect x="2122.4" y="219.3" width="31.0" height="9.47" fill="#171414" />
<rect x="2162.0" y="211.6" width="24.11" height="14.64" fill="#2e2623" />
<rect x="2168.0" y="215.0" width="13.78" height="5.17" fill="#5a5250" />
<polygon points="2072.4,210.7 2102.9,211.6 2102.9,215.0 2072.4,215.0" fill="#2b1f1a" />
<rect x="2100.0" y="215.0" width="2.58" height="29.28" fill="#3a2c24" />
<rect x="2090.5" y="215.0" width="2.07" height="18.95" fill="#4a382e" />
<rect x="2078.5" y="215.0" width="2.07" height="24.11" fill="#5a4638" />
</g>
<rect x="2070.2" y="82.4" width="2.24" height="170.17" fill="#0c0c0c" />
<rect x="1935.8" y="167.6" width="271.44" height="2.58" fill="#0c0c0c" />
</g>
<g id="mon2" filter="url(#soft)">
<polygon points="2408.6,275.0 2478.2,275.0 2513.9,307.1 2513.9,310.4 2511.2,312.9 2375.5,312.9 2372.9,310.4 2372.9,307.1" fill="#2a2c2e" />
<polygon points="2408.6,275.0 2478.2,275.0 2513.9,307.1 2372.9,307.1" fill="#3c3e40" />
<polygon points="2412.1,283.9 2474.6,283.9 2485.4,293.2 2400.5,293.2" fill="#27292b" />
<rect x="2375.5" y="308.0" width="135.71" height="1.79" fill="#55585a" />
<rect x="2417.5" y="264.3" width="52.68" height="25.0" fill="url(#gNeck)" />
<rect x="2301.4" y="75.4" width="284.29" height="188.93" fill="#585b5e" />
<rect x="2301.4" y="75.4" width="284.29" height="10.36" fill="#6a6e70" />
<rect x="2301.4" y="75.4" width="284.29" height="1.43" fill="#3a3c3e" />
<rect x="2301.4" y="252.7" width="284.29" height="11.61" fill="#4c4f52" />
<rect x="2301.4" y="262.1" width="284.29" height="2.14" fill="#2e3032" />
<rect x="2301.4" y="75.4" width="3.93" height="188.93" fill="#666a6d" />
<rect x="2581.8" y="75.4" width="3.93" height="188.93" fill="#484b4e" />
<rect x="2310.7" y="85.4" width="265.89" height="167.5" fill="#1c1e20" />
<rect x="2509.5" y="257.7" width="8.04" height="1.96" rx="0.89" fill="#26282a" />
<rect x="2520.2" y="257.7" width="16.07" height="1.96" rx="0.89" fill="#26282a" />
<rect x="2539.8" y="257.7" width="16.07" height="1.96" rx="0.89" fill="#26282a" />
<rect x="2560.4" y="257.7" width="16.07" height="1.96" rx="0.89" fill="#26282a" />
<clipPath id="cMap"><rect x="2312.1" y="87.0" width="263.39" height="120.54"/></clipPath><g clip-path="url(#cMap)">
<rect x="2312.1" y="87.0" width="263.39" height="120.54" fill="#f7f4ea" />
<ellipse cx="2422.9" cy="158.9" rx="58.93" ry="44.64" fill="#f3e6b4" opacity="0.55"/>
<ellipse cx="2422.9" cy="158.9" rx="26.79" ry="21.43" fill="#f0dc90" opacity="0.6"/>
<path d="M2312.1 128.6 C2316.6 129.5 2330.3 132.1 2338.9 133.9 C2347.5 135.7 2357.1 136.6 2363.9 139.3 C2370.8 142.0 2373.8 147.0 2380.0 150.0 C2386.2 153.0 2397.8 155.9 2401.4 157.1" fill="none" stroke="#e0c04c" stroke-width="1.96" stroke-linecap="round"/>
<path d="M2312.1 182.1 C2316.3 180.9 2329.0 177.7 2337.1 175.0 C2345.2 172.3 2352.1 168.5 2360.4 166.1 C2368.7 163.7 2382.7 161.6 2387.1 160.7" fill="none" stroke="#e8d074" stroke-width="1.61" stroke-linecap="round"/>
<path d="M2390.7 87.5 C2393.1 91.1 2400.5 101.2 2405.0 108.9 C2409.5 116.6 2414.5 127.7 2417.5 133.9 C2420.5 140.2 2422.0 144.3 2422.9 146.4" fill="none" stroke="#e0c04c" stroke-width="1.96" stroke-linecap="round"/>
<path d="M2442.5 87.5 C2442.3 91.1 2442.5 102.4 2441.6 108.9 C2440.7 115.5 2438.4 121.1 2437.1 126.8 C2435.8 132.5 2434.2 140.2 2433.6 142.9" fill="none" stroke="#e0c04c" stroke-width="1.79" stroke-linecap="round"/>
<path d="M2376.4 96.4 C2377.0 100.0 2381.2 111.7 2380.0 117.9 C2378.8 124.2 2371.7 127.4 2369.3 133.9 C2366.9 140.4 2365.1 148.5 2365.7 157.1 C2366.3 165.7 2372.9 177.6 2372.9 185.7 C2372.9 193.8 2366.9 202.1 2365.7 205.4" fill="none" stroke="#e0c04c" stroke-width="1.79" stroke-linecap="round"/>
<path d="M2440.7 160.7 C2446.6 159.8 2464.5 157.2 2476.4 155.4 C2488.3 153.6 2500.2 152.1 2512.1 150.0 C2524.0 147.9 2537.3 145.3 2547.9 142.9 C2558.5 140.5 2570.9 136.9 2575.5 135.7" fill="none" stroke="#e0c04c" stroke-width="1.79" stroke-linecap="round"/>
<path d="M2485.4 135.7 C2489.8 133.9 2501.7 128.0 2512.1 125.0 C2522.5 122.0 2537.3 121.2 2547.9 117.9 C2558.5 114.6 2570.9 107.5 2575.5 105.4" fill="none" stroke="#e0c04c" stroke-width="1.96" stroke-linecap="round"/>
<path d="M2435.4 171.4 C2439.3 173.8 2451.8 181.5 2458.6 185.7 C2465.4 189.9 2471.3 193.1 2476.4 196.4 C2481.5 199.7 2486.8 203.9 2488.9 205.4" fill="none" stroke="#e0c04c" stroke-width="1.79" stroke-linecap="round"/>
<path d="M2440.7 164.3 C2448.1 166.1 2473.5 171.7 2485.4 175.0 C2497.3 178.3 2501.7 181.8 2512.1 183.9 C2522.5 186.0 2537.3 186.6 2547.9 187.5 C2558.5 188.4 2570.9 189.0 2575.5 189.3" fill="none" stroke="#e0c04c" stroke-width="1.96" stroke-linecap="round"/>
<path d="M2419.3 173.2 C2418.7 175.9 2416.6 183.9 2415.7 189.3 C2414.8 194.7 2414.2 202.7 2413.9 205.4" fill="none" stroke="#e8d074" stroke-width="1.61" stroke-linecap="round"/>
<path d="M2405.0 173.2 C2402.0 175.3 2392.4 181.5 2387.1 185.7 C2381.8 189.9 2376.5 194.9 2372.9 198.2 C2369.3 201.5 2366.9 204.2 2365.7 205.4" fill="none" stroke="#e0c04c" stroke-width="1.79" stroke-linecap="round"/>
<path d="M2469.3 100.0 C2472.0 103.6 2482.4 114.2 2485.4 121.4 C2488.4 128.6 2487.1 135.8 2487.1 142.9 C2487.1 150.1 2488.4 157.2 2485.4 164.3 C2482.4 171.4 2475.0 179.1 2469.3 185.7 C2463.6 192.2 2454.4 200.6 2451.4 203.6" fill="none" stroke="#e8d074" stroke-width="1.61" stroke-linecap="round"/>
<path d="M2387.1 88.4 C2393.1 89.4 2411.0 93.0 2422.9 94.6 C2434.8 96.2 2450.9 97.3 2458.6 98.2 C2466.3 99.1 2467.5 99.7 2469.3 100.0" fill="none" stroke="#e8d074" stroke-width="1.43" stroke-linecap="round"/>
<path d="M2458.6 175.0 C2460.4 177.4 2467.8 184.2 2469.3 189.3 C2470.8 194.4 2467.8 202.7 2467.5 205.4" fill="none" stroke="#e8d074" stroke-width="1.43" stroke-linecap="round"/>
<path d="M2533.6 150.0 C2534.5 154.2 2537.1 165.8 2538.9 175.0 C2540.7 184.2 2543.4 200.3 2544.3 205.4" fill="none" stroke="#e8d074" stroke-width="1.25" stroke-linecap="round"/>
<path d="M2503.2 103.6 C2504.1 108.1 2508.3 121.5 2508.6 130.4 C2508.9 139.3 2505.6 152.7 2505.0 157.1" fill="none" stroke="#e8d074" stroke-width="1.25" stroke-linecap="round"/>
<path d="M2338.9 103.6 C2340.4 107.2 2347.9 117.3 2347.9 125.0 C2347.9 132.7 2341.3 141.7 2338.9 150.0 C2336.5 158.3 2334.5 170.8 2333.6 175.0" fill="none" stroke="#e8d074" stroke-width="1.25" stroke-linecap="round"/>
<rect x="2414.8" y="147.3" width="20.54" height="25.89" rx="3.21" fill="none" stroke="#ddbf50" stroke-width="1.6"/>
<rect x="2401.4" y="137.5" width="40.18" height="38.39" rx="5.36" fill="none" stroke="#ddbf50" stroke-width="1.8"/>
<path d="M2372.9 139.3 C2378.0 131.0 2386.6 125.0 2397.9 121.4 C2409.2 117.8 2427.6 117.0 2440.7 117.9 C2453.8 118.8 2468.9 120.3 2476.4 126.8 C2483.9 133.3 2486.6 147.3 2485.4 157.1 C2484.2 166.9 2477.9 178.2 2469.3 185.7 C2460.7 193.1 2446.7 200.0 2433.6 201.8 C2420.5 203.6 2401.7 201.5 2390.7 196.4 C2379.7 191.3 2370.5 180.9 2367.5 171.4 C2364.5 161.9 2367.8 147.6 2372.9 139.3 Z" fill="none" stroke="#e0c255" stroke-width="1.61" />
<rect x="2434.1" y="117.7" width="9.82" height="1.61" fill="#8a8a84" opacity="0.55"/>
<rect x="2553.8" y="98.9" width="7.14" height="1.61" fill="#8a8a84" opacity="0.55"/>
<rect x="2511.6" y="107.3" width="9.82" height="1.61" fill="#8a8a84" opacity="0.55"/>
<rect x="2528.8" y="100.7" width="12.5" height="1.61" fill="#8a8a84" opacity="0.55"/>
<rect x="2394.1" y="97.0" width="7.14" height="1.61" fill="#8a8a84" opacity="0.55"/>
<rect x="2474.3" y="166.6" width="7.14" height="1.61" fill="#8a8a84" opacity="0.55"/>
<rect x="2403.6" y="106.6" width="12.5" height="1.61" fill="#8a8a84" opacity="0.55"/>
<rect x="2470.9" y="100.9" width="12.5" height="1.61" fill="#8a8a84" opacity="0.55"/>
<rect x="2360.9" y="130.9" width="12.5" height="1.61" fill="#8a8a84" opacity="0.55"/>
<rect x="2545.0" y="196.6" width="7.14" height="1.61" fill="#8a8a84" opacity="0.55"/>
<rect x="2526.6" y="197.1" width="9.82" height="1.61" fill="#8a8a84" opacity="0.55"/>
<rect x="2333.8" y="130.5" width="7.14" height="1.61" fill="#8a8a84" opacity="0.55"/>
<rect x="2519.3" y="114.5" width="9.82" height="1.61" fill="#8a8a84" opacity="0.55"/>
<rect x="2468.9" y="116.4" width="12.5" height="1.61" fill="#8a8a84" opacity="0.55"/>
<rect x="2358.8" y="194.5" width="9.82" height="1.61" fill="#8a8a84" opacity="0.55"/>
<rect x="2520.5" y="123.2" width="7.14" height="1.61" fill="#8a8a84" opacity="0.55"/>
<rect x="2528.4" y="194.5" width="12.5" height="1.61" fill="#8a8a84" opacity="0.55"/>
<rect x="2384.3" y="158.2" width="7.14" height="1.61" fill="#8a8a84" opacity="0.55"/>
<rect x="2515.9" y="101.6" width="12.5" height="1.61" fill="#8a8a84" opacity="0.55"/>
<rect x="2337.5" y="203.2" width="7.14" height="1.61" fill="#8a8a84" opacity="0.55"/>
<rect x="2497.1" y="187.3" width="9.82" height="1.61" fill="#8a8a84" opacity="0.55"/>
<rect x="2430.5" y="175.2" width="12.5" height="1.61" fill="#8a8a84" opacity="0.55"/>
<rect x="2481.4" y="156.2" width="9.82" height="1.61" fill="#8a8a84" opacity="0.55"/>
<rect x="2406.4" y="123.0" width="12.5" height="1.61" fill="#8a8a84" opacity="0.55"/>
<rect x="2404.8" y="105.0" width="12.5" height="1.61" fill="#8a8a84" opacity="0.55"/>
<rect x="2425.4" y="186.1" width="9.82" height="1.61" fill="#8a8a84" opacity="0.55"/>
<rect x="2441.2" y="172.1" width="9.82" height="1.61" fill="#8a8a84" opacity="0.55"/>
<rect x="2538.4" y="103.4" width="7.14" height="1.61" fill="#8a8a84" opacity="0.55"/>
<rect x="2502.9" y="166.6" width="7.14" height="1.61" fill="#8a8a84" opacity="0.55"/>
<rect x="2440.7" y="117.9" width="9.82" height="1.61" fill="#8a8a84" opacity="0.55"/>
<rect x="2469.8" y="97.3" width="12.5" height="1.61" fill="#8a8a84" opacity="0.55"/>
<rect x="2343.9" y="192.1" width="12.5" height="1.61" fill="#8a8a84" opacity="0.55"/>
<rect x="2430.4" y="152.3" width="12.5" height="1.61" fill="#8a8a84" opacity="0.55"/>
<rect x="2443.8" y="198.8" width="9.82" height="1.61" fill="#8a8a84" opacity="0.55"/>
<rect x="2527.7" y="173.6" width="7.14" height="1.61" fill="#8a8a84" opacity="0.55"/>
<rect x="2349.8" y="139.5" width="9.82" height="1.61" fill="#8a8a84" opacity="0.55"/>
<rect x="2570.5" y="102.0" width="7.14" height="1.61" fill="#8a8a84" opacity="0.55"/>
<rect x="2428.9" y="195.7" width="12.5" height="1.61" fill="#8a8a84" opacity="0.55"/>
<rect x="2478.6" y="142.1" width="12.5" height="1.61" fill="#8a8a84" opacity="0.55"/>
<rect x="2456.8" y="153.6" width="7.14" height="1.61" fill="#8a8a84" opacity="0.55"/>
<rect x="2484.5" y="155.0" width="7.14" height="1.61" fill="#8a8a84" opacity="0.55"/>
<rect x="2539.1" y="111.4" width="9.82" height="1.61" fill="#8a8a84" opacity="0.55"/>
<rect x="2337.1" y="130.0" width="9.82" height="1.61" fill="#8a8a84" opacity="0.55"/>
<rect x="2362.9" y="135.4" width="9.82" height="1.61" fill="#8a8a84" opacity="0.55"/>
<rect x="2458.6" y="180.9" width="7.14" height="1.61" fill="#8a8a84" opacity="0.55"/>
<rect x="2376.4" y="172.1" width="9.82" height="1.61" fill="#8a8a84" opacity="0.55"/>
<rect x="2516.6" y="140.9" width="7.14" height="1.61" fill="#8a8a84" opacity="0.55"/>
<rect x="2473.0" y="190.7" width="9.82" height="1.61" fill="#8a8a84" opacity="0.55"/>
<rect x="2467.5" y="155.7" width="12.5" height="1.61" fill="#8a8a84" opacity="0.55"/>
<rect x="2454.8" y="132.3" width="7.14" height="1.61" fill="#8a8a84" opacity="0.55"/>
<rect x="2345.9" y="122.3" width="7.14" height="1.61" fill="#8a8a84" opacity="0.55"/>
<rect x="2400.5" y="132.7" width="7.14" height="1.61" fill="#8a8a84" opacity="0.55"/>
<rect x="2493.0" y="197.9" width="7.14" height="1.61" fill="#8a8a84" opacity="0.55"/>
<rect x="2411.8" y="141.6" width="7.14" height="1.61" fill="#8a8a84" opacity="0.55"/>
<rect x="2368.9" y="166.8" width="12.5" height="1.61" fill="#8a8a84" opacity="0.55"/>
<rect x="2450.7" y="201.6" width="12.5" height="1.61" fill="#8a8a84" opacity="0.55"/>
<rect x="2432.1" y="113.0" width="12.5" height="1.61" fill="#8a8a84" opacity="0.55"/>
<rect x="2504.1" y="203.0" width="12.5" height="1.61" fill="#8a8a84" opacity="0.55"/>
<rect x="2562.9" y="100.0" width="9.82" height="1.61" fill="#8a8a84" opacity="0.55"/>
<rect x="2564.5" y="192.3" width="9.82" height="1.61" fill="#8a8a84" opacity="0.55"/>
<rect x="2401.1" y="143.0" width="7.86" height="3.21" rx="0.71" fill="#9cb49c" />
<rect x="2408.2" y="155.5" width="7.86" height="3.21" rx="0.71" fill="#9cb49c" />
<rect x="2427.9" y="151.1" width="7.86" height="3.21" rx="0.71" fill="#9cb49c" />
<rect x="2429.6" y="166.2" width="7.86" height="3.21" rx="0.71" fill="#9cb49c" />
<rect x="2410.0" y="166.2" width="7.86" height="3.21" rx="0.71" fill="#9cb49c" />
<rect x="2360.0" y="146.6" width="7.86" height="3.21" rx="0.71" fill="#8fb0c0" />
<rect x="2386.8" y="156.4" width="7.86" height="3.21" rx="0.71" fill="#a0b898" />
<rect x="2473.4" y="100.2" width="7.86" height="3.21" rx="0.71" fill="#9cb4b4" />
<rect x="2474.3" y="155.5" width="7.86" height="3.21" rx="0.71" fill="#9cb49c" />
<rect x="2441.2" y="140.4" width="7.86" height="3.21" rx="0.71" fill="#9cb49c" />
<rect x="2399.3" y="173.4" width="7.86" height="3.21" rx="0.71" fill="#9cb49c" />
<rect x="2368.9" y="196.6" width="7.86" height="3.21" rx="0.71" fill="#9cb49c" />
<rect x="2409.1" y="202.0" width="7.86" height="3.21" rx="0.71" fill="#8fb0c0" />
<rect x="2322.5" y="124.3" width="7.86" height="3.21" rx="0.71" fill="#e0a090" />
<rect x="2348.4" y="131.1" width="7.86" height="3.21" rx="0.71" fill="#e0a090" />
<rect x="2446.6" y="124.8" width="7.86" height="3.21" rx="0.71" fill="#e0a090" />
<rect x="2336.8" y="166.6" width="7.86" height="3.21" rx="0.71" fill="#e0a090" />
<rect x="2359.1" y="164.8" width="7.86" height="3.21" rx="0.71" fill="#e0a090" />
<rect x="2484.1" y="166.6" width="7.86" height="3.21" rx="0.71" fill="#e0a090" />
<rect x="2463.6" y="167.1" width="7.86" height="3.21" rx="0.71" fill="#d88078" />
<rect x="2422.5" y="180.9" width="7.86" height="3.21" rx="0.71" fill="#e0a090" />
<rect x="2450.2" y="188.0" width="7.86" height="3.21" rx="0.71" fill="#e0a090" />
<rect x="2505.5" y="182.7" width="7.86" height="3.21" rx="0.71" fill="#e0a090" />
<rect x="2505.5" y="192.1" width="7.86" height="3.21" rx="0.71" fill="#e0a090" />
<rect x="2552.9" y="188.0" width="7.86" height="3.21" rx="0.71" fill="#e0a090" />
<rect x="2527.0" y="144.5" width="7.86" height="3.21" rx="0.71" fill="#e0a090" />
<rect x="2533.6" y="129.5" width="6.25" height="4.82" rx="0.71" fill="#2c5a9c" />
<rect x="2540.4" y="129.5" width="13.75" height="4.82" rx="0.71" fill="#e6e8ee" />
<ellipse cx="2471.1" cy="171.8" rx="1.79" ry="1.79" fill="#3a3030" />
</g>
<rect x="2312.1" y="207.5" width="263.39" height="6.43" fill="#eeeef2" />
<rect x="2365.7" y="207.1" width="132.14" height="1.43" fill="#c8c8cc" />
<rect x="2314.8" y="210.0" width="10.71" height="2.14" fill="#5a5a66" opacity="0.7"/>
<rect x="2330.9" y="210.0" width="10.71" height="2.14" fill="#5a5a66" opacity="0.7"/>
<rect x="2338.9" y="210.0" width="10.71" height="2.14" fill="#5a5a66" opacity="0.7"/>
<rect x="2355.0" y="210.0" width="10.71" height="2.14" fill="#5a5a66" opacity="0.7"/>
<rect x="2393.4" y="210.0" width="10.71" height="2.14" fill="#5a5a66" opacity="0.7"/>
<rect x="2405.0" y="210.0" width="10.71" height="2.14" fill="#5a5a66" opacity="0.7"/>
<rect x="2411.2" y="210.0" width="10.71" height="2.14" fill="#5a5a66" opacity="0.7"/>
<rect x="2447.0" y="210.0" width="10.71" height="2.14" fill="#5a5a66" opacity="0.7"/>
<rect x="2465.7" y="210.0" width="10.71" height="2.14" fill="#5a5a66" opacity="0.7"/>
<rect x="2486.2" y="210.0" width="10.71" height="2.14" fill="#5a5a66" opacity="0.7"/>
<rect x="2513.0" y="210.0" width="10.71" height="2.14" fill="#5a5a66" opacity="0.7"/>
<rect x="2533.6" y="210.0" width="10.71" height="2.14" fill="#5a5a66" opacity="0.7"/>
<rect x="2555.0" y="210.0" width="10.71" height="2.14" fill="#5a5a66" opacity="0.7"/>
<rect x="2312.1" y="213.9" width="263.39" height="4.64" fill="#4b2259" />
<rect x="2330.9" y="215.4" width="6.25" height="1.96" fill="#e8e0f0" opacity="0.6"/>
<rect x="2338.9" y="215.4" width="14.29" height="1.96" fill="#e8e0f0" opacity="0.6"/>
<rect x="2355.0" y="215.4" width="12.5" height="1.96" fill="#e8e0f0" opacity="0.6"/>
<rect x="2393.4" y="215.4" width="3.57" height="1.96" fill="#e8e0f0" opacity="0.6"/>
<rect x="2405.0" y="215.4" width="2.68" height="1.96" fill="#e8e0f0" opacity="0.6"/>
<rect x="2411.2" y="215.4" width="29.46" height="1.96" fill="#e8e0f0" opacity="0.6"/>
<rect x="2447.0" y="215.4" width="6.25" height="1.96" fill="#e8e0f0" opacity="0.6"/>
<rect x="2465.7" y="215.4" width="16.96" height="1.96" fill="#e8e0f0" opacity="0.6"/>
<rect x="2486.2" y="215.4" width="19.64" height="1.96" fill="#e8e0f0" opacity="0.6"/>
<rect x="2312.1" y="218.6" width="263.39" height="4.46" fill="#a3475a" />
<rect x="2330.9" y="220.0" width="6.25" height="1.79" fill="#e8e0f0" opacity="0.6"/>
<rect x="2338.9" y="220.0" width="14.29" height="1.79" fill="#e8e0f0" opacity="0.6"/>
<rect x="2355.0" y="220.0" width="12.5" height="1.79" fill="#e8e0f0" opacity="0.6"/>
<rect x="2393.4" y="220.0" width="3.57" height="1.79" fill="#e8e0f0" opacity="0.6"/>
<rect x="2405.0" y="220.0" width="2.68" height="1.79" fill="#e8e0f0" opacity="0.6"/>
<rect x="2411.2" y="220.0" width="29.46" height="1.79" fill="#e8e0f0" opacity="0.6"/>
<rect x="2447.0" y="220.0" width="6.25" height="1.79" fill="#e8e0f0" opacity="0.6"/>
<rect x="2465.7" y="220.0" width="16.96" height="1.79" fill="#e8e0f0" opacity="0.6"/>
<rect x="2486.2" y="220.0" width="19.64" height="1.79" fill="#e8e0f0" opacity="0.6"/>
<rect x="2312.1" y="223.0" width="263.39" height="4.82" fill="#d9c2e2" />
<rect x="2330.9" y="224.5" width="6.25" height="2.14" fill="#3a3a5a" opacity="0.6"/>
<rect x="2338.9" y="224.5" width="14.29" height="2.14" fill="#3a3a5a" opacity="0.6"/>
<rect x="2355.0" y="224.5" width="12.5" height="2.14" fill="#3a3a5a" opacity="0.6"/>
<rect x="2393.4" y="224.5" width="3.57" height="2.14" fill="#3a3a5a" opacity="0.6"/>
<rect x="2405.0" y="224.5" width="2.68" height="2.14" fill="#3a3a5a" opacity="0.6"/>
<rect x="2411.2" y="224.5" width="29.46" height="2.14" fill="#3a3a5a" opacity="0.6"/>
<rect x="2447.0" y="224.5" width="6.25" height="2.14" fill="#3a3a5a" opacity="0.6"/>
<rect x="2465.7" y="224.5" width="16.96" height="2.14" fill="#3a3a5a" opacity="0.6"/>
<rect x="2486.2" y="224.5" width="19.64" height="2.14" fill="#3a3a5a" opacity="0.6"/>
<rect x="2312.1" y="227.9" width="263.39" height="4.46" fill="#2a2a7c" />
<rect x="2330.9" y="229.3" width="6.25" height="1.79" fill="#e8e0f0" opacity="0.6"/>
<rect x="2338.9" y="229.3" width="14.29" height="1.79" fill="#e8e0f0" opacity="0.6"/>
<rect x="2355.0" y="229.3" width="12.5" height="1.79" fill="#e8e0f0" opacity="0.6"/>
<rect x="2393.4" y="229.3" width="3.57" height="1.79" fill="#e8e0f0" opacity="0.6"/>
<rect x="2405.0" y="229.3" width="2.68" height="1.79" fill="#e8e0f0" opacity="0.6"/>
<rect x="2411.2" y="229.3" width="29.46" height="1.79" fill="#e8e0f0" opacity="0.6"/>
<rect x="2447.0" y="229.3" width="6.25" height="1.79" fill="#e8e0f0" opacity="0.6"/>
<rect x="2465.7" y="229.3" width="16.96" height="1.79" fill="#e8e0f0" opacity="0.6"/>
<rect x="2486.2" y="229.3" width="19.64" height="1.79" fill="#e8e0f0" opacity="0.6"/>
<rect x="2312.1" y="232.3" width="263.39" height="4.64" fill="#2c2c80" />
<rect x="2330.9" y="233.8" width="6.25" height="1.96" fill="#e8e0f0" opacity="0.6"/>
<rect x="2338.9" y="233.8" width="14.29" height="1.96" fill="#e8e0f0" opacity="0.6"/>
<rect x="2355.0" y="233.8" width="12.5" height="1.96" fill="#e8e0f0" opacity="0.6"/>
<rect x="2393.4" y="233.8" width="3.57" height="1.96" fill="#e8e0f0" opacity="0.6"/>
<rect x="2405.0" y="233.8" width="2.68" height="1.96" fill="#e8e0f0" opacity="0.6"/>
<rect x="2411.2" y="233.8" width="29.46" height="1.96" fill="#e8e0f0" opacity="0.6"/>
<rect x="2447.0" y="233.8" width="6.25" height="1.96" fill="#e8e0f0" opacity="0.6"/>
<rect x="2465.7" y="233.8" width="16.96" height="1.96" fill="#e8e0f0" opacity="0.6"/>
<rect x="2486.2" y="233.8" width="19.64" height="1.96" fill="#e8e0f0" opacity="0.6"/>
<rect x="2312.1" y="237.0" width="263.39" height="4.46" fill="#b3dbe9" />
<rect x="2330.9" y="238.4" width="6.25" height="1.79" fill="#3a3a5a" opacity="0.6"/>
<rect x="2338.9" y="238.4" width="14.29" height="1.79" fill="#3a3a5a" opacity="0.6"/>
<rect x="2355.0" y="238.4" width="12.5" height="1.79" fill="#3a3a5a" opacity="0.6"/>
<rect x="2393.4" y="238.4" width="3.57" height="1.79" fill="#3a3a5a" opacity="0.6"/>
<rect x="2405.0" y="238.4" width="2.68" height="1.79" fill="#3a3a5a" opacity="0.6"/>
<rect x="2411.2" y="238.4" width="29.46" height="1.79" fill="#3a3a5a" opacity="0.6"/>
<rect x="2447.0" y="238.4" width="6.25" height="1.79" fill="#3a3a5a" opacity="0.6"/>
<rect x="2465.7" y="238.4" width="16.96" height="1.79" fill="#3a3a5a" opacity="0.6"/>
<rect x="2486.2" y="238.4" width="19.64" height="1.79" fill="#3a3a5a" opacity="0.6"/>
<rect x="2312.1" y="241.4" width="263.39" height="5.36" fill="#b9dfec" />
<rect x="2330.9" y="242.9" width="6.25" height="2.68" fill="#3a3a5a" opacity="0.6"/>
<rect x="2338.9" y="242.9" width="14.29" height="2.68" fill="#3a3a5a" opacity="0.6"/>
<rect x="2355.0" y="242.9" width="12.5" height="2.68" fill="#3a3a5a" opacity="0.6"/>
<rect x="2393.4" y="242.9" width="3.57" height="2.68" fill="#3a3a5a" opacity="0.6"/>
<rect x="2405.0" y="242.9" width="2.68" height="2.68" fill="#3a3a5a" opacity="0.6"/>
<rect x="2411.2" y="242.9" width="29.46" height="2.68" fill="#3a3a5a" opacity="0.6"/>
<rect x="2447.0" y="242.9" width="6.25" height="2.68" fill="#3a3a5a" opacity="0.6"/>
<rect x="2465.7" y="242.9" width="16.96" height="2.68" fill="#3a3a5a" opacity="0.6"/>
<rect x="2486.2" y="242.9" width="19.64" height="2.68" fill="#3a3a5a" opacity="0.6"/>
<rect x="2312.1" y="246.8" width="263.39" height="5.0" fill="#e4e6ea" />
<rect x="2313.9" y="213.9" width="15.18" height="33.39" fill="#6ab234" />
<rect x="2313.9" y="218.4" width="15.18" height="0.36" fill="#4c8c24" />
<rect x="2313.9" y="222.9" width="15.18" height="0.36" fill="#4c8c24" />
<rect x="2313.9" y="227.7" width="15.18" height="0.36" fill="#4c8c24" />
<rect x="2313.9" y="232.1" width="15.18" height="0.36" fill="#4c8c24" />
<rect x="2313.9" y="236.8" width="15.18" height="0.36" fill="#4c8c24" />
<rect x="2313.9" y="241.2" width="15.18" height="0.36" fill="#4c8c24" />
<rect x="2531.8" y="248.2" width="43.75" height="3.57" fill="#f4f4f6" />
</g>
<g id="tower" filter="url(#soft)">
<polygon points="2191.6,440.0 2278.2,453.0 2280.4,516.4 2280.9,659.3 2194.3,680.4" fill="url(#gSide)" />
<polygon points="2191.6,440.0 2278.2,453.0 2278.6,458.4 2194.3,446.8" fill="#505359" />
<polygon points="2275.5,453.9 2278.2,453.0 2280.9,659.3 2277.9,660.2" fill="#4a4c52" />
<polygon points="2206.8,661.1 2222.0,637.0 2255.9,633.9 2269.6,650.4 2269.3,654.3" fill="#707278" />
<polygon points="2210.4,659.3 2223.8,639.3 2254.1,636.4 2265.7,650.4" fill="#5c5e64" />
<polygon points="2194.3,666.4 2280.9,650.4 2280.9,659.3 2194.3,680.4" fill="#606268" opacity="0.7"/>
<polygon points="2113.0,443.6 2115.7,440.7 2190.7,440.0 2192.9,442.3 2192.9,548.6 2187.1,555.7 2179.1,571.8 2177.3,589.6 2180.0,609.3 2187.1,625.4 2192.9,652.1 2192.9,679.8 2115.7,677.1 2113.2,674.5 2113.2,621.8 2116.6,612.9 2118.4,598.6 2117.9,562.9 2114.8,552.1 2113.0,545.0" fill="url(#gSilver)" />
<polygon points="2113.0,545.0 2114.8,552.1 2117.9,562.9 2118.4,598.6 2116.6,612.9 2113.2,621.8" fill="#1c1d20" />
<polygon points="2192.9,548.6 2187.1,555.7 2179.1,571.8 2177.3,589.6 2180.0,609.3 2187.1,625.4 2192.9,652.1" fill="#2a2c30" />
<rect x="2119.3" y="450.4" width="66.07" height="99.11" rx="2.14" fill="#3a3d42" />
<rect x="2120.7" y="453.0" width="63.75" height="8.93" fill="#2c2e32" />
<rect x="2120.7" y="463.8" width="63.75" height="8.93" fill="#34373c" />
<rect x="2120.7" y="475.7" width="63.75" height="10.71" fill="#2a2c30" />
<rect x="2120.7" y="487.9" width="63.75" height="8.04" fill="#34373c" />
<rect x="2138.0" y="499.5" width="46.96" height="13.39" fill="#303338" />
<rect x="2138.9" y="515.5" width="46.07" height="12.5" fill="#1a1b1e" />
<rect x="2141.6" y="520.0" width="31.25" height="3.57" fill="#484b50" />
<polygon points="2119.3,530.7 2185.4,530.7 2185.4,543.2 2180.0,549.5 2124.6,549.5 2119.3,545.0" fill="#0e0f11" />
<rect x="2160.0" y="537.0" width="2.14" height="8.04" fill="#8a8c90" />
<rect x="2167.5" y="537.0" width="2.14" height="8.04" fill="#8a8c90" />
<ellipse cx="2124.6" cy="543.2" rx="1.61" ry="1.61" fill="#4a4c50" />
<ellipse cx="2131.8" cy="543.2" rx="1.61" ry="1.61" fill="#4a4c50" />
<ellipse cx="2147.9" cy="558.4" rx="3.57" ry="3.57" fill="#2c2e32" />
<ellipse cx="2147.9" cy="558.4" rx="1.96" ry="1.96" fill="#6a6c70" />
<ellipse cx="2146.4" cy="590.5" rx="8.93" ry="11.07" fill="#f0f0f2" stroke="#9a9ca0" stroke-width="1"/>
<text x='2146.4' y='592.9' font-size='5.2' font-weight='700' text-anchor='middle' fill='#1c1c20'>DELL</text>
<polygon points="2118.4,623.6 2172.9,623.6 2187.1,650.4 2187.1,673.6 2116.6,673.6" fill="#56585c" />
<polygon points="2121.1,628.0 2174.6,628.0 2177.3,631.2 2120.2,631.2" fill="#141517" />
<polygon points="2121.1,634.3 2175.9,634.3 2178.6,637.5 2120.2,637.5" fill="#141517" />
<polygon points="2121.1,641.4 2177.3,641.4 2180.0,644.6 2120.2,644.6" fill="#141517" />
<polygon points="2121.1,648.6 2178.8,648.6 2181.4,651.8 2120.2,651.8" fill="#141517" />
<polygon points="2121.1,655.4 2180.1,655.4 2182.8,658.6 2120.2,658.6" fill="#141517" />
<polygon points="2121.1,662.0 2181.4,662.0 2184.1,665.2 2120.2,665.2" fill="#141517" />
<polygon points="2121.1,668.2 2182.7,668.2 2185.4,671.4 2120.2,671.4" fill="#141517" />
<text x='2225.5' y='568.2' font-size='26' font-weight='700' fill='#4b4d53' textLength='30' lengthAdjust='spacingAndGlyphs' transform='rotate(8 2225.5 568.2)'>DELL</text>
<text x='2120.2' y='448.9' font-size='5' fill='#c8c8cc' textLength='32' lengthAdjust='spacingAndGlyphs'>DELL PRECISION</text>
</g>
<text x="1974" y="380" font-size="48" fill="#000" textLength="195" lengthAdjust="spacingAndGlyphs">现场视频</text>
<text x="2346" y="373" font-size="48" fill="#000" textLength="195" lengthAdjust="spacingAndGlyphs">电子地图</text>
<text font-size="48" fill="#000"><tspan x="2336" y="486">同</tspan><tspan x="2336" y="548">时</tspan><tspan x="2336" y="602.5">弹</tspan><tspan x="2336" y="663">出</tspan></text>
<path d="M2260.5 785.6 L2315 849.5 H2288.3 V901.6 H2315 L2260.5 963.3 L2206.2 901.6 H2233 V849.5 H2206.2 Z" fill="#fff" stroke="#000" stroke-width="4.5" stroke-linejoin="miter" stroke-miterlimit="1.42"/>
<path d="M1833.1 1060.7 L1895.8 1009.6 V1034 H1987.5 V1009.6 L2050.2 1060.7 L1987.5 1111.8 V1087.6 H1895.8 V1111.8 Z" fill="#fff" stroke="#000" stroke-width="4.5" stroke-linejoin="miter" stroke-miterlimit="1.42"/>
<path d="M2260.8 1157.6 L2318.3 1216.3 H2289.6 V1272.6 H2318.3 L2260.8 1336.1 L2203.9 1272.6 H2232 V1216.3 H2203.9 Z" fill="#fff" stroke="#000" stroke-width="4.5" stroke-linejoin="miter" stroke-miterlimit="1.42"/>
<rect x="2087.6" y="1003.4" width="346.3" height="108.6" rx="66" ry="54.3" fill="#fff" stroke="#000" stroke-width="5"/>
<text x="2145" y="1078" font-size="57" fill="#000" textLength="235" lengthAdjust="spacingAndGlyphs" font-weight="700">Internet</text>
<rect x="1769.5" y="1427.5" width="961.0" height="471.0" rx="15" ry="15" fill="#fff" stroke="#000" stroke-width="3" shape-rendering="crispEdges"/>
<text x="2345" y="1587" font-size="48" fill="#000" textLength="291" lengthAdjust="spacingAndGlyphs">视频监控系统</text>
<rect x="2161" y="1640" width="3" height="45.5" fill="#000"/>
<path d="M2162.5 1623 L2148.5 1657 Q2162.5 1649 2176.5 1657 Z" fill="#000"/>
<g id="dvr" filter="url(#soft)">
<rect x="1934.4" y="1564.1" width="381.33" height="15.29" fill="#f6f6f6" />
<rect x="1988.4" y="1445.4" width="327.37" height="134.9" fill="#fbfbfb" opacity="0.6"/>
<polygon points="1953.3,1504.0 2077.4,1462.5 2304.0,1472.9 2306.7,1476.9 2215.9,1521.3 1961.4,1503.3" fill="url(#gDvrTop)" />
<polygon points="2215.0,1519.1 2305.5,1474.2 2307.1,1509.3 2217.7,1570.9 2206.9,1577.6" fill="#36383a" />
<polygon points="1956.0,1502.4 2215.0,1519.1 2217.1,1570.9 2206.4,1577.6 1958.7,1550.1 1953.8,1547.0 1951.7,1541.6 1951.3,1511.9 1952.7,1505.7" fill="#121214" />
<polygon points="2044.1,1511.9 2174.5,1521.8 2176.3,1571.3 2045.0,1557.8" fill="url(#gDvrPanel)" />
<polygon points="2176.3,1521.8 2215.0,1524.5 2216.8,1573.1 2177.2,1572.2" fill="#0e0e10" />
<rect x="2182.6" y="1526.3" width="14.39" height="10.79" fill="#3a1a1a" />
<rect x="2181.7" y="1542.5" width="16.19" height="9.89" fill="none" stroke="#8a8a8e" stroke-width="0.8"/>
<rect x="2181.7" y="1556.9" width="16.19" height="10.79" fill="none" stroke="#8a8a8e" stroke-width="0.8"/>
<ellipse cx="2151.7" cy="1547.9" rx="17.09" ry="17.99" fill="#9a9a9e" />
<ellipse cx="2151.7" cy="1547.9" rx="16.55" ry="17.45" fill="#b4b4b8" stroke="#77777b" stroke-width="0.7"/>
<ellipse cx="2151.7" cy="1547.9" rx="7.91" ry="8.27" fill="#d8d8dc" stroke="#6a6a6e" stroke-width="0.8"/>
<polyline points="2140.3,1536.2 2162.8,1559.6" fill="none" stroke="#cfcfd3" stroke-width="1.44" />
<polyline points="2162.8,1536.2 2140.3,1559.6" fill="none" stroke="#cfcfd3" stroke-width="1.44" />
<text x='2151.7' y='1549.7' font-size='4.6' font-weight='700' text-anchor='middle' fill='#333'>OK</text>
<rect x="2053.5" y="1534.6" width="10.07" height="7.91" rx="1.08" fill="#8e8e92" stroke="#6a6a6e" stroke-width="0.6"/>
<text x='2058.5' y='1540.9' font-size='6.4' text-anchor='middle' fill='#2c2c30'>1</text>
<rect x="2065.7" y="1535.5" width="10.07" height="7.91" rx="1.08" fill="#8e8e92" stroke="#6a6a6e" stroke-width="0.6"/>
<text x='2070.7' y='1541.8' font-size='6.4' text-anchor='middle' fill='#2c2c30'>2</text>
<rect x="2077.9" y="1536.4" width="10.07" height="7.91" rx="1.08" fill="#8e8e92" stroke="#6a6a6e" stroke-width="0.6"/>
<text x='2083.0' y='1542.7' font-size='6.4' text-anchor='middle' fill='#2c2c30'>3</text>
<rect x="2090.2" y="1537.3" width="10.07" height="7.91" rx="1.08" fill="#8e8e92" stroke="#6a6a6e" stroke-width="0.6"/>
<text x='2095.2' y='1543.6' font-size='6.4' text-anchor='middle' fill='#2c2c30'>4</text>
<rect x="2102.4" y="1538.2" width="10.07" height="7.91" rx="1.08" fill="#8e8e92" stroke="#6a6a6e" stroke-width="0.6"/>
<text x='2107.4' y='1544.5' font-size='6.4' text-anchor='middle' fill='#2c2c30'>5</text>
<rect x="2054.2" y="1545.8" width="10.07" height="7.91" rx="1.08" fill="#8e8e92" stroke="#6a6a6e" stroke-width="0.6"/>
<text x='2059.2' y='1552.1' font-size='6.4' text-anchor='middle' fill='#2c2c30'>6</text>
<rect x="2066.4" y="1546.7" width="10.07" height="7.91" rx="1.08" fill="#8e8e92" stroke="#6a6a6e" stroke-width="0.6"/>
<text x='2071.5' y='1553.0' font-size='6.4' text-anchor='middle' fill='#2c2c30'>7</text>
<rect x="2078.6" y="1547.6" width="10.07" height="7.91" rx="1.08" fill="#8e8e92" stroke="#6a6a6e" stroke-width="0.6"/>
<text x='2083.7' y='1553.9' font-size='6.4' text-anchor='middle' fill='#2c2c30'>8</text>
<rect x="2090.9" y="1548.5" width="10.07" height="7.91" rx="1.08" fill="#8e8e92" stroke="#6a6a6e" stroke-width="0.6"/>
<text x='2095.9' y='1554.8' font-size='6.4' text-anchor='middle' fill='#2c2c30'>9</text>
<rect x="2103.1" y="1549.4" width="10.07" height="7.91" rx="1.08" fill="#8e8e92" stroke="#6a6a6e" stroke-width="0.6"/>
<text x='2108.1' y='1555.7' font-size='6.4' text-anchor='middle' fill='#2c2c30'>0</text>
<rect x="2115.2" y="1539.8" width="10.79" height="18.89" rx="1.08" fill="#8a8a8e" />
<rect x="2056.9" y="1523.1" width="5.04" height="2.88" fill="#f0f0f2" />
<rect x="2067.7" y="1523.8" width="5.04" height="2.88" fill="#f0f0f2" />
<rect x="2078.5" y="1524.5" width="5.04" height="2.88" fill="#f0f0f2" />
<rect x="2089.3" y="1525.3" width="5.04" height="2.88" fill="#f0f0f2" />
<rect x="2100.1" y="1526.0" width="5.04" height="2.88" fill="#f0f0f2" />
<rect x="2110.8" y="1526.7" width="5.04" height="2.88" fill="#f0f0f2" />
<rect x="2121.6" y="1527.4" width="5.04" height="2.88" fill="#f0f0f2" />
<rect x="1956.9" y="1514.1" width="9.53" height="4.68" fill="#c8c8cc" />
<ellipse cx="1962.3" cy="1538.0" rx="5.76" ry="6.12" fill="none" stroke="#c0302c" stroke-width="1"/>
<text x='1961.7' y='1540.0' font-size='3.6' font-weight='700' fill='#e8e8e8' textLength='24' lengthAdjust='spacingAndGlyphs'>SAVGOOD BRAND</text>
<text x='2011.7' y='1522.4' font-size='4.6' fill='#9a9a9e' textLength='24' lengthAdjust='spacingAndGlyphs'>SDB-8008</text>
</g>
<rect x="1824" y="1712" width="879" height="152.3" fill="url(#pWeave)"/>
<g id="cams" filter="url(#soft)">
<polygon points="1981.8,1713.8 1992.2,1712.2 1994.2,1789.6 1988.3,1792.6 1983.4,1789.6" fill="#e9e9e9" />
<polygon points="1988.3,1712.2 1992.2,1712.2 1994.2,1789.6 1990.3,1791.6" fill="#cfcfcf" />
<polygon points="1890.8,1757.1 1890.4,1734.5 1892.7,1727.6 1897.7,1723.2 1912.4,1720.7 1947.9,1727.6 1983.4,1733.5 1983.4,1786.7 1977.5,1774.9 1965.6,1759.1 1951.8,1749.3 1928.2,1742.4 1911.5,1742.9 1910.9,1757.1" fill="url(#gWhiteCam)" />
<polygon points="1910.9,1742.9 1928.2,1742.4 1951.8,1749.3 1965.6,1759.1 1977.5,1774.9 1983.4,1786.7 1983.4,1778.8 1967.6,1754.2 1951.8,1744.3 1928.2,1738.4 1910.9,1739.4" fill="#d2d2d2" />
<polygon points="1952.8,1740.4 1962.7,1747.3 1961.7,1752.2 1952.2,1744.9" fill="#b8b8b8" />
<ellipse cx="1983.8" cy="1775.8" rx="2.76" ry="1.97" fill="#9a9a9a" />
<rect x="1889.8" y="1754.2" width="22.26" height="4.93" rx="1.58" fill="#dcdcdc" />
<polygon points="1859.3,1818.2 1859.6,1786.7 1864.2,1772.9 1875.0,1762.6 1890.8,1757.7 1912.4,1757.7 1930.2,1762.6 1941.0,1772.9 1945.9,1786.7 1946.9,1818.2" fill="url(#gDome)" />
<polygon points="1857.9,1816.2 1947.9,1816.2 1945.9,1826.1 1932.1,1831.0 1873.0,1831.0 1860.2,1826.1" fill="#e2e2e2" />
<polyline points="1858.5,1818.2 1947.5,1818.2" fill="none" stroke="#bcbcbc" stroke-width="0.99" />
<polyline points="1861.6,1826.1 1944.4,1826.1" fill="none" stroke="#c8c8c8" stroke-width="0.79" />
<ellipse cx="1904.6" cy="1840.9" rx="31.13" ry="18.72" fill="#d9dde0" />
<ellipse cx="1904.2" cy="1837.9" rx="26.6" ry="15.37" fill="#15171a" />
<ellipse cx="1899.6" cy="1837.9" rx="7.88" ry="10.84" fill="#2c3036" />
<ellipse cx="1896.7" cy="1835.9" rx="2.76" ry="2.76" fill="#d0d4da" />
<polygon points="1875.0,1826.1 1932.1,1826.1 1936.1,1834.0 1873.0,1834.0" fill="#e4e4e4" opacity="0.5"/>
<path d="M2086.8 1745.3 C2088.0 1741.0 2087.3 1738.0 2093.7 1735.5 C2100.1 1733.0 2110.1 1731.3 2125.2 1730.5 C2140.3 1729.7 2169.2 1729.8 2184.3 1730.5 C2199.4 1731.2 2209.3 1732.0 2215.8 1734.5 C2222.3 1737.0 2222.2 1740.9 2223.3 1745.3 C2224.5 1749.7 2245.4 1758.5 2222.7 1761.1 C2199.9 1763.7 2109.5 1763.7 2086.8 1761.1 C2064.2 1758.5 2085.7 1749.6 2086.8 1745.3 Z" fill="#e9e9e9" />
<polygon points="2086.8,1749.3 2223.3,1749.3 2221.7,1765.0 2215.8,1782.7 2184.3,1788.7 2125.2,1788.7 2095.7,1782.7 2088.2,1765.0" fill="url(#gWhiteCam)" />
<polyline points="2087.8,1752.2 2222.7,1752.2" fill="none" stroke="#cfcfcf" stroke-width="1.18" />
<path d="M2093.7 1763.0 C2102.2 1762.3 2133.1 1758.1 2144.9 1759.1 C2156.7 1760.1 2156.4 1769.0 2164.6 1769.0 C2172.8 1769.0 2185.0 1760.4 2194.2 1759.1 C2203.4 1757.8 2215.5 1760.8 2219.8 1761.1" fill="none" stroke="#c4c4c4" stroke-width="0.99" />
<polyline points="2093.7,1766.0 2091.9,1786.7" fill="none" stroke="#d4d4d4" stroke-width="0.79" />
<polyline points="2102.0,1766.0 2100.4,1786.7" fill="none" stroke="#d4d4d4" stroke-width="0.79" />
<polyline points="2110.2,1766.0 2108.9,1786.7" fill="none" stroke="#d4d4d4" stroke-width="0.79" />
<polyline points="2118.5,1766.0 2117.4,1786.7" fill="none" stroke="#d4d4d4" stroke-width="0.79" />
<polyline points="2126.8,1766.0 2125.9,1786.7" fill="none" stroke="#d4d4d4" stroke-width="0.79" />
<polyline points="2135.1,1766.0 2134.5,1786.7" fill="none" stroke="#d4d4d4" stroke-width="0.79" />
<polyline points="2143.3,1766.0 2143.0,1786.7" fill="none" stroke="#d4d4d4" stroke-width="0.79" />
<polyline points="2151.6,1766.0 2151.5,1786.7" fill="none" stroke="#d4d4d4" stroke-width="0.79" />
<polyline points="2159.9,1766.0 2160.0,1786.7" fill="none" stroke="#d4d4d4" stroke-width="0.79" />
<polyline points="2168.2,1766.0 2168.6,1786.7" fill="none" stroke="#d4d4d4" stroke-width="0.79" />
<polyline points="2176.4,1766.0 2177.1,1786.7" fill="none" stroke="#d4d4d4" stroke-width="0.79" />
<polyline points="2184.7,1766.0 2185.6,1786.7" fill="none" stroke="#d4d4d4" stroke-width="0.79" />
<polyline points="2193.0,1766.0 2194.1,1786.7" fill="none" stroke="#d4d4d4" stroke-width="0.79" />
<polyline points="2201.3,1766.0 2202.6,1786.7" fill="none" stroke="#d4d4d4" stroke-width="0.79" />
<polyline points="2209.5,1766.0 2211.2,1786.7" fill="none" stroke="#d4d4d4" stroke-width="0.79" />
<polyline points="2217.8,1766.0 2219.7,1786.7" fill="none" stroke="#d4d4d4" stroke-width="0.79" />
<ellipse cx="2110.4" cy="1765.0" rx="1.38" ry="3.55" fill="#8a8a8a" />
<ellipse cx="2208.0" cy="1764.0" rx="1.38" ry="3.55" fill="#8a8a8a" />
<polygon points="2101.6,1786.7 2211.9,1786.7 2215.8,1782.7 2095.7,1782.7" fill="#bdbdbd" />
<path d="M2106.5 1788.7 C2122.8 1786.4 2190.1 1785.1 2206.0 1788.7 C2221.9 1792.3 2205.6 1803.4 2202.0 1810.3 C2198.4 1817.2 2191.2 1825.2 2184.3 1830.0 C2177.4 1834.8 2168.6 1838.2 2160.7 1838.9 C2152.8 1839.6 2144.2 1837.5 2137.0 1834.0 C2129.8 1830.5 2122.1 1823.5 2117.3 1818.2 C2112.6 1812.9 2110.3 1807.3 2108.5 1802.4 C2106.7 1797.5 2090.2 1791.0 2106.5 1788.7 Z" fill="#2b2b2d" />
<ellipse cx="2164.6" cy="1820.2" rx="23.64" ry="14.78" fill="#3e3e40" />
<ellipse cx="2167.6" cy="1823.1" rx="15.76" ry="10.84" fill="#232325" />
<ellipse cx="2168.6" cy="1824.1" rx="7.49" ry="5.91" fill="#4a4a4e" />
<ellipse cx="2135.1" cy="1810.3" rx="1.18" ry="1.18" fill="#a8a8ac" />
<ellipse cx="2142.9" cy="1802.4" rx="1.18" ry="1.18" fill="#a8a8ac" />
<ellipse cx="2152.8" cy="1797.5" rx="1.18" ry="1.18" fill="#a8a8ac" />
<ellipse cx="2144.9" cy="1814.3" rx="1.18" ry="1.18" fill="#a8a8ac" />
<ellipse cx="2137.0" cy="1820.2" rx="1.18" ry="1.18" fill="#a8a8ac" />
<ellipse cx="2148.8" cy="1822.1" rx="1.18" ry="1.18" fill="#a8a8ac" />
<ellipse cx="2188.3" cy="1800.5" rx="1.18" ry="1.18" fill="#a8a8ac" />
<ellipse cx="2194.2" cy="1806.4" rx="1.18" ry="1.18" fill="#a8a8ac" />
<ellipse cx="2185.3" cy="1810.3" rx="1.18" ry="1.18" fill="#a8a8ac" />
<ellipse cx="2144.9" cy="1807.4" rx="1.18" ry="1.18" fill="#a8a8ac" />
<ellipse cx="2154.8" cy="1802.4" rx="1.18" ry="1.18" fill="#a8a8ac" />
<ellipse cx="2192.2" cy="1798.5" rx="1.18" ry="1.18" fill="#a8a8ac" />
<ellipse cx="2152.8" cy="1758.1" rx="5.12" ry="5.12" fill="none" stroke="#cc3a34" stroke-width="1.3"/>
<text x='2154.8' y='1759.5' font-size='3.4' font-weight='700' fill='#2a2a2a' textLength='21' lengthAdjust='spacingAndGlyphs'>SAVGOOD BRAND</text>
<polygon points="2376.2,1810.3 2401.8,1810.3 2419.6,1798.5 2446.2,1797.5 2448.1,1835.9 2443.2,1850.7 2425.5,1849.7 2421.5,1835.9 2397.9,1835.9 2394.0,1844.8 2382.1,1844.8 2378.2,1835.9" fill="#2b2b2d" />
<polygon points="2397.9,1818.2 2421.5,1810.3 2443.2,1802.4 2446.2,1826.1 2423.5,1835.9 2397.9,1834.0" fill="#3c3c3e" />
<rect x="2382.1" y="1835.9" width="11.82" height="9.46" fill="#4a4a4c" />
<polygon points="2433.4,1765.0 2444.2,1768.0 2444.2,1782.7 2435.3,1784.7" fill="#333335" />
<path d="M2284.6 1765.0 C2289.2 1761.9 2308.4 1753.2 2319.1 1749.3 C2329.8 1745.4 2334.9 1742.7 2348.7 1741.4 C2362.5 1740.1 2387.7 1740.2 2401.8 1741.4 C2415.9 1742.6 2426.1 1745.7 2433.4 1748.3 C2440.7 1750.9 2444.0 1754.3 2445.6 1757.1 C2447.2 1759.9 2446.9 1758.8 2443.2 1765.0 C2439.5 1771.2 2430.4 1787.0 2423.5 1794.6 C2416.6 1802.1 2409.4 1806.9 2401.8 1810.3 C2394.2 1813.7 2387.7 1814.9 2378.2 1815.2 C2368.7 1815.5 2355.9 1813.9 2344.7 1812.3 C2333.5 1810.7 2319.1 1809.0 2311.2 1805.4 C2303.3 1801.8 2300.7 1796.8 2297.4 1790.6 C2294.1 1784.4 2293.6 1772.3 2291.5 1768.0 C2289.4 1763.7 2280.0 1768.1 2284.6 1765.0 Z" fill="#39393b" />
<polygon points="2348.7,1741.8 2400.9,1741.8 2417.6,1749.3 2382.1,1751.6 2366.4,1749.3" fill="#5a5a5c" />
<polygon points="2376.2,1742.4 2400.9,1741.8 2412.7,1747.3 2386.1,1750.2" fill="#7a7a7e" />
<path d="M2300.4 1769.0 C2302.5 1764.5 2313.3 1763.3 2319.1 1762.6 C2324.8 1761.9 2331.6 1761.7 2334.9 1765.0 C2338.2 1768.3 2337.5 1776.6 2338.8 1782.7 C2340.1 1788.8 2346.0 1798.7 2342.7 1801.5 C2339.4 1804.3 2325.2 1801.5 2319.1 1799.5 C2313.0 1797.5 2309.4 1794.7 2306.3 1789.6 C2303.2 1784.5 2298.3 1773.5 2300.4 1769.0 Z" fill="url(#pLed)" />
<path d="M2362.4 1766.0 C2365.5 1762.3 2378.7 1762.1 2386.1 1762.6 C2393.5 1763.1 2403.2 1764.0 2406.8 1769.0 C2410.4 1774.0 2410.5 1787.0 2407.4 1792.6 C2404.3 1798.2 2395.8 1800.4 2388.1 1802.4 C2380.4 1804.4 2364.9 1807.4 2361.5 1804.4 C2358.1 1801.5 2367.2 1791.1 2367.4 1784.7 C2367.6 1778.3 2359.3 1769.7 2362.4 1766.0 Z" fill="url(#pLed)" />
<ellipse cx="2347.7" cy="1778.8" rx="16.75" ry="18.12" fill="#2c2c2e" />
<ellipse cx="2347.7" cy="1778.8" rx="12.21" ry="13.4" fill="#19191b" />
<ellipse cx="2348.3" cy="1778.4" rx="7.88" ry="8.67" fill="#3c3e44" />
<ellipse cx="2350.6" cy="1775.8" rx="3.15" ry="3.55" fill="#8a8e98" />
<polygon points="2592.9,1758.1 2670.8,1745.3 2702.9,1749.3 2702.9,1807.4 2689.5,1814.3 2630.4,1826.1 2594.9,1818.2" fill="url(#gBox)" />
<polygon points="2592.9,1758.1 2670.8,1745.3 2702.9,1749.3 2624.5,1763.0" fill="#b9b5c1" />
<polygon points="2624.5,1763.0 2702.9,1749.3 2702.9,1807.4 2630.4,1826.1" fill="#d2cedb" />
<polygon points="2630.4,1810.3 2702.9,1792.6 2702.9,1807.4 2630.4,1826.1" fill="#9a96a4" />
<polygon points="2579.1,1763.0 2606.7,1757.1 2626.4,1764.0 2632.3,1818.2 2620.5,1828.1 2594.9,1826.1 2583.1,1818.2" fill="#2d2d2f" />
<polygon points="2626.4,1784.7 2654.0,1781.8 2658.0,1792.6 2656.0,1807.4 2628.4,1814.3" fill="#47474b" />
<path d="M2535.8 1786.7 C2538.9 1780.8 2545.0 1774.4 2551.6 1770.9 C2558.2 1767.5 2568.0 1766.5 2575.2 1766.0 C2582.4 1765.5 2590.3 1765.2 2594.9 1768.0 C2599.5 1770.8 2601.3 1776.3 2602.8 1782.7 C2604.3 1789.1 2605.1 1800.2 2603.8 1806.4 C2602.5 1812.7 2601.0 1817.1 2594.9 1820.2 C2588.8 1823.3 2575.8 1824.6 2567.3 1825.1 C2558.8 1825.6 2549.4 1826.2 2543.7 1823.1 C2538.0 1820.0 2534.2 1812.5 2532.9 1806.4 C2531.6 1800.3 2532.7 1792.6 2535.8 1786.7 Z" fill="#1a1a1c" />
<rect x="2566.3" y="1769.9" width="18.72" height="22.66" fill="#3a3a3e" />
<rect x="2570.3" y="1776.8" width="12.81" height="12.81" fill="#85858b" />
<ellipse cx="2549.6" cy="1804.4" rx="17.34" ry="19.7" fill="#111113" />
<ellipse cx="2547.6" cy="1805.4" rx="11.43" ry="13.79" fill="#2a2a2e" />
<ellipse cx="2546.6" cy="1806.4" rx="6.7" ry="8.27" fill="#101012" />
<ellipse cx="2687.5" cy="1773.9" rx="4.33" ry="4.33" fill="none" stroke="#cc3a34" stroke-width="1.2"/>
<polygon points="2692.4,1799.5 2701.3,1797.5 2699.3,1803.4 2690.5,1805.0" fill="#2c2c36" />
</g>
</svg>
</body>
</html>
